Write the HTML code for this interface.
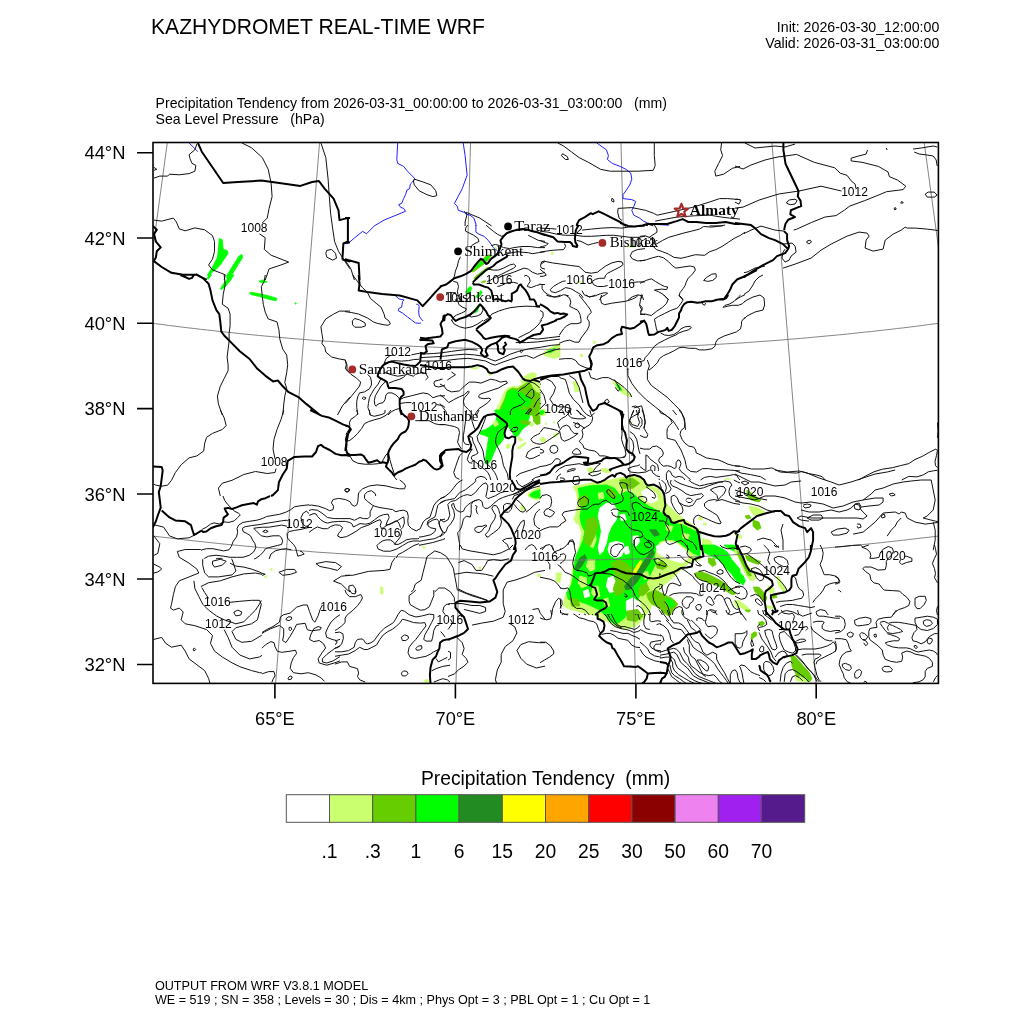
<!DOCTYPE html>
<html><head><meta charset="utf-8"><style>
html,body{margin:0;padding:0;background:#fff;}
svg{display:block;}
text{font-family:"Liberation Sans",Arial,Helvetica,sans-serif;fill:#000;}
.ser{font-family:"Liberation Serif","Times New Roman",serif;}
</style></head><body>
<svg width="1024" height="1024" viewBox="0 0 1024 1024">
<rect width="1024" height="1024" fill="#fff"/>
<text x="151" y="33.7" font-size="22.5" textLength="334" lengthAdjust="spacingAndGlyphs">KAZHYDROMET REAL-TIME WRF</text>
<text x="939.3" y="32" font-size="14.2" text-anchor="end">Init: 2026-03-30_12:00:00</text>
<text x="939.3" y="48.1" font-size="14.2" text-anchor="end">Valid: 2026-03-31_03:00:00</text>
<text x="155.6" y="108" font-size="14.1" xml:space="preserve">Precipitation Tendency from 2026-03-31_00:00:00 to 2026-03-31_03:00:00   (mm)</text>
<text x="155.6" y="124" font-size="14.1" xml:space="preserve">Sea Level Pressure   (hPa)</text>
<defs><clipPath id="fr"><rect x="153" y="142.5" width="785.4" height="540.9"/></clipPath></defs>
<g clip-path="url(#fr)">
<g id="precip"><path d="M219.3,238.6 L222.3,239.6 L223.2,249.4 L227.1,250.4 L228.1,253.3 L224.2,259.1 L220.3,265.0 L216.4,268.9 L211.5,272.8 L208.6,277.7 L207.6,274.8 L212.5,267.0 L217.4,257.2 L218.4,249.4 L219.3,238.6Z" fill="#00ff00" stroke="#00ff00" stroke-width="0.8"/>
<path d="M241.8,254.3 L242.8,257.2 L237.9,265.0 L232.0,274.8 L228.1,280.0 L226.2,276.7 L232.0,267.0 L238.9,256.2 L241.8,254.3Z" fill="#00ff00" stroke="#00ff00" stroke-width="0.8"/>
<path d="M206.6,278.9 L209.6,275.0 L211.5,275.0 L208.6,278.9Z" fill="#00ff00" stroke="#00ff00" stroke-width="0.8"/>
<path d="M220.3,288.7 L224.2,282.8 L228.1,277.9 L232.0,275.0 L234.0,275.0 L230.1,280.9 L225.2,286.7 L221.3,289.6Z" fill="#00ff00" stroke="#00ff00" stroke-width="0.8"/>
<path d="M259.4,280.9 L263.3,279.9 L267.2,281.8 L263.3,283.2 L259.4,281.8Z" fill="#00ff00" stroke="#00ff00" stroke-width="0.8"/>
<path d="M249.6,292.6 L253.5,292.6 L263.3,294.5 L271.1,296.5 L277.0,298.4 L276.0,300.8 L269.1,299.4 L259.4,296.5 L250.6,294.5 L249.6,292.6Z" fill="#00ff00" stroke="#00ff00" stroke-width="0.8"/>
<path d="M294.9,302.7 L296.5,303.3 L295.5,304.3Z" fill="#00ff00" stroke="#00ff00" stroke-width="0.8"/>
<path d="M264.8,575.9 L266.4,575.9 L266.4,577.4 L264.8,577.4Z" fill="#caff70" stroke="#caff70" stroke-width="0.8"/>
<path d="M270.7,568.8 L272.3,568.8 L272.3,570.4 L270.7,570.4Z" fill="#caff70" stroke="#caff70" stroke-width="0.8"/>
<path d="M473.2,312.1 L475.2,309.2 L477.1,306.2 L479.1,304.3 L480.0,305.3 L478.6,308.2 L477.6,311.1 L476.1,312.6 L474.2,312.6Z" fill="#00ff00" stroke="#00ff00" stroke-width="0.8"/>
<path d="M494.7,415.0 L496.6,408.5 L500.5,401.6 L503.5,393.8 L507.4,388.0 L514.2,386.0 L518.1,387.0 L522.0,384.1 L521.1,380.2 L525.0,376.2 L527.9,374.3 L532.8,372.3 L536.7,374.3 L535.2,377.2 L536.7,382.1 L540.0,384.1 L540.0,415.0Z" fill="#caff70" stroke="#caff70" stroke-width="0.8"/>
<path d="M498.6,415.0 L500.5,407.5 L504.5,399.7 L507.4,390.9 L512.3,388.0 L517.1,388.9 L522.0,386.0 L525.0,384.1 L527.9,382.1 L530.8,384.1 L532.8,388.0 L535.7,391.9 L540.0,393.8 L540.0,415.0Z" fill="#66cd00" stroke="#66cd00" stroke-width="0.8"/>
<path d="M500.5,415.0 L502.5,407.5 L505.4,399.7 L507.4,391.9 L512.3,389.4 L517.1,390.9 L520.1,391.9 L523.0,393.8 L525.0,397.7 L524.0,403.6 L522.0,407.5 L518.1,409.5 L514.2,412.4 L512.3,415.0Z" fill="#00ff00" stroke="#00ff00" stroke-width="0.8"/>
<path d="M524.0,397.7 L527.9,395.8 L530.8,399.7 L529.8,403.6 L527.9,407.5 L525.0,405.5Z" fill="#00ff00" stroke="#00ff00" stroke-width="0.8"/>
<path d="M494.7,410.0 L508.4,410.0 L510.3,413.9 L508.4,422.7 L506.4,427.6 L504.5,434.4 L503.5,439.3 L500.5,443.2 L496.6,447.1 L494.7,451.0 L492.7,455.9 L490.8,460.8 L486.9,464.7 L484.9,462.7 L485.9,455.9 L486.9,449.1 L487.9,442.2 L488.8,437.3 L484.9,435.4 L481.0,434.4 L479.1,433.4 L482.0,430.5 L485.9,429.5 L488.8,427.6 L492.7,424.6 L495.7,421.7 L496.6,415.9Z" fill="#00ff00" stroke="#00ff00" stroke-width="0.8"/>
<path d="M510.3,410.0 L527.9,410.0 L529.8,415.9 L527.9,421.7 L529.8,423.7 L525.9,426.6 L522.0,429.5 L519.1,434.4 L516.2,437.3 L514.2,435.4 L512.3,432.5 L510.3,429.5 L508.4,426.6 L509.3,419.8Z" fill="#00ff00" stroke="#00ff00" stroke-width="0.8"/>
<path d="M521.1,419.8 L525.9,420.7 L530.8,422.2 L529.8,424.2 L525.0,424.6 L521.1,422.7Z" fill="#66cd00" stroke="#66cd00" stroke-width="0.8"/>
<path d="M518.1,437.3 L521.1,438.3 L523.0,440.3 L520.1,441.2 L518.1,439.3Z" fill="#caff70" stroke="#caff70" stroke-width="0.8"/>
<path d="M506.4,445.2 L508.4,443.7 L510.3,445.2 L509.3,448.1 L506.9,448.6Z" fill="#caff70" stroke="#caff70" stroke-width="0.8"/>
<path d="M517.1,448.1 L521.1,445.2 L525.0,442.2 L526.4,443.2 L523.0,446.1 L519.1,449.1Z" fill="#caff70" stroke="#caff70" stroke-width="0.8"/>
<path d="M531.8,410.0 L540.0,410.0 L540.0,423.7 L536.7,424.6 L533.8,421.7 L532.8,415.9Z" fill="#66cd00" stroke="#66cd00" stroke-width="0.8"/>
<path d="M529.8,423.7 L532.8,422.7 L533.8,425.6 L530.8,426.6Z" fill="#caff70" stroke="#caff70" stroke-width="0.8"/>
<path d="M492.7,422.7 L496.6,420.7 L498.6,424.6 L494.7,426.6Z" fill="#caff70" stroke="#caff70" stroke-width="0.8"/>
<path d="M422.6,546.2 L424.1,546.4 L425.1,548.4 L423.6,548.4Z" fill="#caff70" stroke="#caff70" stroke-width="0.8"/>
<path d="M527.9,493.7 L533.8,489.8 L540.0,486.8 L540.0,499.5 L535.7,499.5 L529.8,497.6 L527.9,495.6Z" fill="#caff70" stroke="#caff70" stroke-width="0.8"/>
<path d="M529.8,494.6 L533.8,491.7 L540.0,489.8 L540.0,497.6 L535.7,498.1 L530.8,496.6Z" fill="#00ff00" stroke="#00ff00" stroke-width="0.8"/>
<path d="M521.1,505.4 L524.0,506.4 L525.0,509.3 L522.0,511.2 L521.1,508.3Z" fill="#caff70" stroke="#caff70" stroke-width="0.8"/>
<path d="M380.2,587.0 L382.5,587.0 L383.1,593.8 L380.7,593.8Z" fill="#caff70" stroke="#caff70" stroke-width="0.8"/>
<path d="M479.0,566.9 L480.9,566.9 L480.9,568.8 L479.0,568.8Z" fill="#caff70" stroke="#caff70" stroke-width="0.8"/>
<path d="M537.4,574.3 L540.3,574.3 L540.3,576.6 L537.4,576.6Z" fill="#caff70" stroke="#caff70" stroke-width="0.8"/>
<path d="M540.0,409.8 L543.9,409.8 L545.9,415.0 L540.0,415.0Z" fill="#caff70" stroke="#caff70" stroke-width="0.8"/>
<path d="M540.0,410.0 L545.9,410.0 L546.8,412.9 L543.9,415.4 L540.0,415.9Z" fill="#caff70" stroke="#caff70" stroke-width="0.8"/>
<path d="M540.0,411.0 L542.9,410.5 L544.9,412.4 L542.0,414.4 L540.0,414.4Z" fill="#00ff00" stroke="#00ff00" stroke-width="0.8"/>
<path d="M540.0,438.3 L542.9,437.3 L545.9,439.3 L544.9,441.7 L541.0,441.7Z" fill="#caff70" stroke="#caff70" stroke-width="0.8"/>
<path d="M553.7,434.4 L557.6,432.9 L558.6,434.4 L555.6,436.9 L554.2,436.9Z" fill="#caff70" stroke="#caff70" stroke-width="0.8"/>
<path d="M586.9,468.6 L589.8,467.6 L592.7,468.6 L593.7,471.5 L591.8,473.0 L588.8,472.5Z" fill="#caff70" stroke="#caff70" stroke-width="0.8"/>
<path d="M601.5,468.6 L606.4,468.6 L610.3,470.5 L609.3,472.5 L604.5,472.5 L601.5,470.5Z" fill="#caff70" stroke="#caff70" stroke-width="0.8"/>
<path d="M545.4,423.2 L546.6,423.2 L546.6,424.5 L545.4,424.5Z" fill="#caff70" stroke="#caff70" stroke-width="0.8"/>
<path d="M553.7,421.7 L554.8,421.7 L554.8,422.9 L553.7,422.9Z" fill="#caff70" stroke="#caff70" stroke-width="0.8"/>
<path d="M630.8,421.7 L632.0,421.7 L632.0,422.9 L630.8,422.9Z" fill="#caff70" stroke="#caff70" stroke-width="0.8"/>
<path d="M725.0,479.3 L727.9,478.4 L730.8,480.0Z" fill="#caff70" stroke="#caff70" stroke-width="0.8"/>
<path d="M702.5,538.6 L710.3,540.5 L714.2,548.4 L708.4,550.0 L702.5,548.4Z" fill="#caff70" stroke="#caff70" stroke-width="0.8"/>
<path d="M698.6,517.1 L702.5,517.6 L702.0,520.0 L698.6,519.6Z" fill="#caff70" stroke="#caff70" stroke-width="0.8"/>
<path d="M703.5,523.0 L706.4,523.2 L706.2,525.1 L703.5,524.9Z" fill="#caff70" stroke="#caff70" stroke-width="0.8"/>
<path d="M702.5,545.0 L714.2,545.0 L723.0,548.9 L727.9,552.8 L731.8,559.6 L737.7,566.5 L740.0,569.4 L740.0,584.1 L735.7,580.2 L731.8,574.3 L727.9,570.4 L723.0,564.5 L718.1,559.6 L714.2,557.7 L708.4,554.8 L704.5,552.8Z" fill="#00ff00" stroke="#00ff00" stroke-width="0.8"/>
<path d="M708.4,557.7 L714.2,558.7 L716.2,564.5 L712.3,566.5 L708.4,562.6Z" fill="#66cd00" stroke="#66cd00" stroke-width="0.8"/>
<path d="M694.7,573.3 L700.5,571.4 L708.4,574.3 L716.2,578.2 L723.0,582.1 L727.9,586.0 L733.8,590.9 L735.7,593.8 L732.8,594.8 L725.9,590.9 L718.1,586.0 L710.3,583.1 L702.5,580.2 L696.6,577.2Z" fill="#66cd00" stroke="#66cd00" stroke-width="0.8"/>
<path d="M724.0,545.0 L733.8,545.0 L740.0,548.9 L740.0,554.8 L733.8,550.9 L727.9,547.9Z" fill="#00ff00" stroke="#00ff00" stroke-width="0.8"/>
<path d="M733.8,601.6 L740.0,599.7 L740.0,607.5 L736.7,607.5Z" fill="#caff70" stroke="#caff70" stroke-width="0.8"/>
<path d="M747.0,490.0 L755.0,496.0 L761.0,500.0 L759.0,502.0 L751.0,500.0 L747.0,496.0Z" fill="#66cd00" stroke="#66cd00" stroke-width="0.8"/>
<path d="M749.0,506.0 L759.0,508.0 L765.0,512.0 L761.0,516.0 L755.0,516.0 L751.0,512.0Z" fill="#caff70" stroke="#caff70" stroke-width="0.8"/>
<path d="M745.0,516.0 L749.0,515.0 L751.0,518.0 L747.0,519.0Z" fill="#66cd00" stroke="#66cd00" stroke-width="0.8"/>
<path d="M753.0,520.1 L759.0,522.1 L761.0,528.1 L757.0,530.1 L753.0,526.1Z" fill="#66cd00" stroke="#66cd00" stroke-width="0.8"/>
<path d="M735.0,534.1 L741.0,535.1 L742.0,538.1 L737.0,538.1Z" fill="#caff70" stroke="#caff70" stroke-width="0.8"/>
<path d="M735.0,549.1 L739.1,550.1 L742.2,555.3 L745.3,561.4 L749.4,567.6 L753.5,572.7 L755.5,577.8 L753.5,580.9 L749.4,579.9 L745.3,573.7 L742.2,567.6 L740.1,561.4 L738.1,556.3 L735.0,555.3Z" fill="#caff70" stroke="#caff70" stroke-width="0.8"/>
<path d="M737.1,551.2 L740.1,552.2 L743.2,558.3 L746.3,564.5 L749.4,569.6 L751.4,575.8 L748.3,575.8 L745.3,569.6 L742.2,563.5 L739.1,557.3Z" fill="#66cd00" stroke="#66cd00" stroke-width="0.8"/>
<path d="M735.0,569.6 L739.1,571.7 L743.2,575.8 L745.3,580.9 L743.2,585.0 L739.1,581.9 L735.0,578.8Z" fill="#00ff00" stroke="#00ff00" stroke-width="0.8"/>
<path d="M745.3,555.3 L751.4,557.3 L755.5,559.4 L760.6,561.4 L758.6,564.5 L752.4,562.4 L747.3,560.4Z" fill="#66cd00" stroke="#66cd00" stroke-width="0.8"/>
<path d="M753.5,587.0 L758.6,587.0 L763.7,592.2 L766.8,597.3 L765.8,601.4 L761.7,599.3 L757.6,594.2 L754.5,591.1Z" fill="#66cd00" stroke="#66cd00" stroke-width="0.8"/>
<path d="M767.8,586.0 L774.0,588.1 L774.0,592.2 L769.9,593.2Z" fill="#caff70" stroke="#caff70" stroke-width="0.8"/>
<path d="M777.0,576.8 L779.1,576.8 L782.2,584.0 L786.3,590.1 L784.2,592.2 L780.1,588.1 L778.1,584.0Z" fill="#caff70" stroke="#caff70" stroke-width="0.8"/>
<path d="M770.9,595.2 L776.0,594.2 L777.0,597.3 L772.9,598.3Z" fill="#66cd00" stroke="#66cd00" stroke-width="0.8"/>
<path d="M737.1,601.4 L743.2,603.4 L748.3,607.6 L750.4,610.6 L747.3,611.7 L741.2,607.6 L737.1,604.5Z" fill="#caff70" stroke="#caff70" stroke-width="0.8"/>
<path d="M765.8,605.5 L772.9,606.5 L774.0,608.6 L767.8,608.6Z" fill="#caff70" stroke="#caff70" stroke-width="0.8"/>
<path d="M745.3,610.0 L750.4,610.0 L749.4,612.1 L746.3,611.5Z" fill="#66cd00" stroke="#66cd00" stroke-width="0.8"/>
<path d="M758.6,622.3 L762.7,621.3 L764.7,623.3 L762.7,625.4 L759.6,625.4Z" fill="#66cd00" stroke="#66cd00" stroke-width="0.8"/>
<path d="M790.4,655.1 L794.5,656.1 L798.6,660.2 L802.7,665.4 L806.8,669.5 L809.9,673.6 L811.9,678.7 L809.9,681.8 L804.7,680.8 L800.6,677.7 L796.5,675.6 L794.5,671.5 L792.4,667.4 L791.4,663.3 L791.4,659.2Z" fill="#66cd00" stroke="#66cd00" stroke-width="0.8"/>
<path d="M795.5,676.7 L800.6,676.7 L805.8,679.7 L806.8,681.8 L796.5,680.8Z" fill="#caff70" stroke="#caff70" stroke-width="0.8"/>
<path d="M424.8,679.8 L428.2,679.8 L428.2,682.1 L424.8,682.1Z" fill="#caff70" stroke="#caff70" stroke-width="0.8"/>
<path d="M471.8,270.1 L474.9,266.0 L479.0,261.9 L483.1,258.8 L486.1,255.8 L489.2,254.7 L491.3,255.8 L488.2,259.9 L484.1,264.0 L480.0,267.0 L475.9,270.1 L472.8,272.2Z" fill="#66cd00" stroke="#66cd00" stroke-width="0.8"/>
<path d="M474.9,268.1 L479.0,264.0 L483.1,260.4 L487.2,256.8 L489.2,256.3 L487.2,259.4 L483.1,262.9 L479.0,266.0 L475.4,269.1Z" fill="#00ff00" stroke="#00ff00" stroke-width="0.8"/>
<path d="M473.8,278.3 L476.9,275.2 L481.0,272.2 L485.1,269.1 L488.2,267.0 L489.2,268.1 L485.1,272.2 L481.0,275.2 L476.9,278.3 L474.9,279.3Z" fill="#66cd00" stroke="#66cd00" stroke-width="0.8"/>
<path d="M465.6,291.7 L468.7,287.6 L470.8,286.5 L471.8,288.6 L469.7,292.7 L466.7,294.7Z" fill="#00ff00" stroke="#00ff00" stroke-width="0.8"/>
<path d="M475.9,296.8 L479.0,292.7 L481.0,290.6 L482.0,292.7 L480.0,295.8 L477.9,297.8Z" fill="#00ff00" stroke="#00ff00" stroke-width="0.8"/>
<path d="M481.0,282.4 L484.1,280.9 L486.1,280.9 L484.1,282.4Z" fill="#66cd00" stroke="#66cd00" stroke-width="0.8"/>
<path d="M493.3,247.6 L495.4,247.0 L497.4,248.6 L495.4,249.6Z" fill="#caff70" stroke="#caff70" stroke-width="0.8"/>
<path d="M551.3,252.7 L553.3,252.7 L553.3,254.2 L551.3,254.2Z" fill="#caff70" stroke="#caff70" stroke-width="0.8"/>
<path d="M579.0,281.9 L581.0,281.4 L581.5,282.9 L579.5,283.2Z" fill="#caff70" stroke="#caff70" stroke-width="0.8"/>
<path d="M628.2,245.5 L634.3,245.0 L634.9,247.0 L628.7,247.0Z" fill="#caff70" stroke="#caff70" stroke-width="0.8"/>
<path d="M593.3,341.1 L595.4,341.1 L595.4,343.2 L593.3,343.2Z" fill="#caff70" stroke="#caff70" stroke-width="0.8"/>
<path d="M580.5,354.5 L582.6,354.5 L582.6,356.5 L580.5,356.5Z" fill="#caff70" stroke="#caff70" stroke-width="0.8"/>
<path d="M573.2,486.6 L589.8,483.3 L609.7,480.0 L626.3,476.6 L639.6,476.6 L649.5,484.9 L659.5,489.9 L666.1,503.2 L676.1,513.2 L689.4,523.1 L700.0,529.8 L700.0,559.6 L689.4,562.9 L681.1,569.6 L672.8,577.9 L662.8,586.2 L656.2,594.5 L652.9,602.8 L649.5,611.1 L642.9,619.4 L636.3,626.0 L626.3,629.3 L616.3,627.7 L609.7,622.7 L603.1,619.4 L596.4,616.1 L583.2,612.7 L569.9,609.4 L563.2,606.1 L564.9,596.1 L569.9,586.2 L571.5,576.2 L573.2,566.3 L576.5,556.3 L579.8,543.0 L581.5,533.1 L578.2,523.1 L574.9,516.5 L578.2,503.2 L576.5,493.2Z" fill="#caff70" stroke="#caff70" stroke-width="0.8"/>
<path d="M573.2,518.1 L581.5,516.5 L583.2,523.1 L576.5,523.9Z" fill="#caff70" stroke="#caff70" stroke-width="0.8"/>
<path d="M556.6,572.9 L561.6,572.9 L559.9,582.9 L555.8,581.2Z" fill="#caff70" stroke="#caff70" stroke-width="0.8"/>
<path d="M578.2,488.3 L589.8,485.8 L606.4,484.9 L614.7,488.3 L619.7,494.9 L626.3,491.6 L632.9,493.2 L639.6,499.9 L649.5,506.5 L659.5,511.5 L666.1,516.5 L672.8,523.1 L682.7,524.8 L692.7,529.8 L700.0,533.1 L700.0,556.3 L692.7,553.0 L686.1,548.0 L679.4,543.0 L672.8,539.7 L666.1,539.7 L659.5,541.4 L656.2,548.0 L654.5,556.3 L656.2,562.9 L652.9,569.6 L649.5,576.2 L646.2,582.9 L642.9,589.5 L639.6,596.1 L636.3,602.8 L629.6,612.7 L623.0,619.4 L616.3,624.4 L609.7,621.0 L604.7,614.4 L598.1,609.4 L588.1,604.4 L578.2,601.1 L568.2,599.5 L566.6,592.8 L571.5,584.5 L573.2,576.2 L574.0,566.3 L575.7,556.3 L579.8,548.0 L583.2,539.7 L584.8,531.4 L581.5,524.8 L579.8,516.5 L581.5,508.2 L579.8,498.2Z" fill="#00ff00" stroke="#00ff00" stroke-width="0.8"/>
<path d="M599.8,508.2 L606.4,503.2 L613.0,503.2 L618.0,511.5 L616.3,519.8 L611.4,526.4 L608.0,534.7 L606.4,543.0 L603.1,551.3 L599.8,554.6 L598.1,548.0 L599.8,539.7 L601.4,531.4 L599.8,523.1 L598.1,516.5Z" fill="#ffffff" stroke="#ffffff" stroke-width="0.8"/>
<path d="M609.7,543.0 L616.3,541.4 L623.0,543.0 L624.6,549.7 L621.3,556.3 L614.7,558.0 L609.7,554.6 L608.0,549.7Z" fill="#ffffff" stroke="#ffffff" stroke-width="0.8"/>
<path d="M588.1,559.6 L594.8,559.6 L594.8,569.6 L589.8,571.2 L586.5,566.3Z" fill="#caff70" stroke="#caff70" stroke-width="0.8"/>
<path d="M608.0,577.9 L613.0,576.2 L616.3,582.9 L614.7,591.2 L609.7,592.8 L606.4,586.2Z" fill="#ffffff" stroke="#ffffff" stroke-width="0.8"/>
<path d="M626.3,601.1 L632.9,597.8 L639.6,602.8 L642.9,612.7 L636.3,619.4 L629.6,617.7 L626.3,609.4Z" fill="#ffffff" stroke="#ffffff" stroke-width="0.8"/>
<path d="M641.2,491.6 L647.9,488.3 L656.2,493.2 L657.8,499.9 L651.2,503.2 L644.6,499.9Z" fill="#ffffff" stroke="#ffffff" stroke-width="0.8"/>
<path d="M656.2,546.3 L666.1,541.4 L676.1,543.0 L684.4,549.7 L689.4,556.3 L682.7,562.9 L672.8,560.5 L662.8,556.3 L657.8,553.0Z" fill="#ffffff" stroke="#ffffff" stroke-width="0.8"/>
<path d="M579.8,576.2 L586.5,577.9 L586.5,586.2 L581.5,587.8 L578.2,582.9Z" fill="#caff70" stroke="#caff70" stroke-width="0.8"/>
<path d="M593.1,586.2 L598.1,586.2 L599.8,596.1 L594.8,597.8 L591.5,592.8Z" fill="#caff70" stroke="#caff70" stroke-width="0.8"/>
<path d="M589.8,533.1 L594.8,531.4 L596.4,539.7 L593.1,548.0 L589.8,546.3 L589.0,539.7Z" fill="#caff70" stroke="#caff70" stroke-width="0.8"/>
<path d="M632.9,536.4 L637.9,535.6 L639.6,541.4 L636.3,546.3 L632.9,543.0Z" fill="#ffffff" stroke="#ffffff" stroke-width="0.8"/>
<path d="M618.0,566.3 L623.0,565.4 L624.6,572.9 L621.3,579.5 L618.0,576.2Z" fill="#caff70" stroke="#caff70" stroke-width="0.8"/>
<path d="M583.2,591.2 L588.1,589.5 L589.8,596.1 L584.8,597.8Z" fill="#ffffff" stroke="#ffffff" stroke-width="0.8"/>
<path d="M603.1,599.5 L608.0,597.8 L609.7,606.1 L605.6,607.8Z" fill="#caff70" stroke="#caff70" stroke-width="0.8"/>
<path d="M623.0,548.0 L628.0,546.3 L629.6,553.0 L625.5,554.6Z" fill="#ffffff" stroke="#ffffff" stroke-width="0.8"/>
<path d="M642.9,572.9 L647.9,571.2 L649.5,577.9 L644.6,579.5Z" fill="#caff70" stroke="#caff70" stroke-width="0.8"/>
<path d="M598.1,493.2 L603.1,492.4 L603.9,498.2 L598.9,499.0Z" fill="#caff70" stroke="#caff70" stroke-width="0.8"/>
<path d="M619.7,514.8 L624.6,514.0 L626.3,519.8 L621.3,520.6Z" fill="#ffffff" stroke="#ffffff" stroke-width="0.8"/>
<path d="M666.1,524.8 L672.8,526.4 L671.1,531.4 L666.1,529.8Z" fill="#caff70" stroke="#caff70" stroke-width="0.8"/>
<path d="M682.7,533.1 L689.4,534.7 L687.7,539.7 L682.7,538.0Z" fill="#caff70" stroke="#caff70" stroke-width="0.8"/>
<path d="M578.2,498.2 L586.5,494.9 L589.8,501.5 L583.2,506.5 L579.8,504.9Z" fill="#66cd00" stroke="#66cd00" stroke-width="0.8"/>
<path d="M606.4,489.9 L611.4,488.3 L616.3,494.9 L614.7,498.2 L609.7,496.6Z" fill="#66cd00" stroke="#66cd00" stroke-width="0.8"/>
<path d="M586.5,519.8 L594.8,516.5 L598.1,524.8 L594.8,536.4 L589.8,546.3 L584.8,543.0 L584.8,533.1Z" fill="#66cd00" stroke="#66cd00" stroke-width="0.8"/>
<path d="M611.4,562.9 L619.7,559.6 L626.3,562.9 L632.9,569.6 L629.6,582.9 L623.0,592.8 L616.3,596.1 L613.0,589.5 L616.3,579.5 L613.0,569.6Z" fill="#66cd00" stroke="#66cd00" stroke-width="0.8"/>
<path d="M639.6,586.2 L646.2,582.9 L649.5,589.5 L642.9,596.1 L637.9,594.5Z" fill="#66cd00" stroke="#66cd00" stroke-width="0.8"/>
<path d="M656.2,562.9 L662.8,561.3 L667.8,566.3 L662.8,569.6 L657.0,567.9Z" fill="#66cd00" stroke="#66cd00" stroke-width="0.8"/>
<path d="M569.9,597.8 L578.2,599.5 L579.8,606.1 L571.5,606.1Z" fill="#66cd00" stroke="#66cd00" stroke-width="0.8"/>
<path d="M619.7,480.0 L632.9,478.3 L639.6,483.3 L632.9,488.3 L623.0,488.3Z" fill="#66cd00" stroke="#66cd00" stroke-width="0.8"/>
<path d="M574.9,567.9 L579.8,558.0 L584.8,554.6 L586.5,558.0 L581.5,566.3 L577.3,571.2Z" fill="#228b22" stroke="#228b22" stroke-width="0.8"/>
<path d="M624.6,586.2 L629.6,579.5 L636.3,572.9 L642.9,562.9 L649.5,553.0 L652.9,549.7 L654.5,553.0 L649.5,562.9 L642.9,572.9 L636.3,582.9 L629.6,589.5 L625.5,589.5Z" fill="#228b22" stroke="#228b22" stroke-width="0.8"/>
<path d="M649.5,529.8 L656.2,529.8 L659.5,534.7 L654.5,536.4Z" fill="#228b22" stroke="#228b22" stroke-width="0.8"/>
<path d="M632.1,573.7 L636.3,566.3 L640.4,560.5 L642.1,561.3 L638.8,567.9 L634.6,574.6 L632.9,575.4Z" fill="#ffff00" stroke="#ffff00" stroke-width="0.8"/>
<path d="M543.1,352.8 L548.5,348.7 L554.0,346.0 L560.0,343.2 L560.0,356.9 L554.0,358.3 L548.5,356.9 L544.4,355.5Z" fill="#caff70" stroke="#caff70" stroke-width="0.8"/>
<path d="M547.2,351.4 L551.3,349.4 L555.4,348.0 L554.0,350.8 L549.9,352.8Z" fill="#00ff00" stroke="#00ff00" stroke-width="0.8"/>
<path d="M526.6,377.4 L532.1,373.3 L534.8,374.7 L532.1,378.8 L528.0,380.0Z" fill="#caff70" stroke="#caff70" stroke-width="0.8"/>
<path d="M470.6,367.9 L474.7,367.2 L478.8,367.9 L474.7,369.2Z" fill="#caff70" stroke="#caff70" stroke-width="0.8"/>
<path d="M488.4,373.3 L491.1,374.0 L489.7,376.1Z" fill="#caff70" stroke="#caff70" stroke-width="0.8"/>
<path d="M751.8,633.7 L754.7,631.7 L756.7,632.7 L756.7,635.6 L753.8,637.6 L751.8,639.5 L750.8,638.6Z" fill="#66cd00" stroke="#66cd00" stroke-width="0.8"/>
<path d="M646.4,593.5 L655.2,590.0 L662.2,593.5 L672.7,598.8 L678.0,604.1 L672.7,611.1 L669.2,616.4 L663.9,612.9 L658.7,607.6 L651.6,604.1 L648.1,598.8Z" fill="#66cd00" stroke="#66cd00" stroke-width="0.8"/>
<path d="M665.7,598.8 L672.7,600.5 L674.5,605.8 L669.2,607.6Z" fill="#00ff00" stroke="#00ff00" stroke-width="0.8"/>
<path d="M627.0,611.1 L637.6,609.3 L642.9,616.4 L635.8,621.6 L627.0,619.9Z" fill="#66cd00" stroke="#66cd00" stroke-width="0.8"/>
<path d="M612.3,381.5 L618.1,382.5 L624.0,389.3 L631.8,395.2 L629.8,397.1 L622.0,393.2 L616.2,387.3Z" fill="#caff70" stroke="#caff70" stroke-width="0.8"/>
<path d="M616.2,384.4 L619.1,385.4 L622.0,390.3 L619.1,389.7Z" fill="#00ff00" stroke="#00ff00" stroke-width="0.8"/>
<path d="M573.2,381.5 L577.1,382.5 L579.1,391.2 L575.2,392.2Z" fill="#caff70" stroke="#caff70" stroke-width="0.8"/></g>
<path d="M-276.4,671.7 -269.2,673.5 -262.1,675.2 -254.9,677.0 -247.7,678.7 -240.5,680.4 -233.3,682.1 -226.2,683.8 -219.0,685.4 -211.8,687.1 -204.6,688.7 -197.4,690.3 -190.2,691.9 -183.0,693.5 -175.7,695.1 -168.5,696.6 -161.3,698.2 -154.1,699.7 -146.9,701.2 -139.6,702.7 -132.4,704.2 -125.2,705.6 -117.9,707.1 -110.7,708.5 -103.4,709.9 -96.2,711.3 -88.9,712.7 -81.7,714.1 -74.4,715.4 -67.2,716.8 -59.9,718.1 -52.7,719.4 -45.4,720.7 -38.1,721.9 -30.8,723.2 -23.6,724.4 -16.3,725.7 -9.0,726.9 -1.7,728.1 5.6,729.2 12.9,730.4 20.1,731.5 27.4,732.7 34.7,733.8 42.0,734.9 49.3,736.0 56.6,737.0 63.9,738.1 71.2,739.1 78.6,740.1 85.9,741.1 93.2,742.1 100.5,743.1 107.8,744.0 115.1,745.0 122.5,745.9 129.8,746.8 137.1,747.7 144.4,748.6 151.8,749.4 159.1,750.3 166.4,751.1 173.8,751.9 181.1,752.7 188.4,753.5 195.8,754.3 203.1,755.0 210.5,755.8 217.8,756.5 225.2,757.2 232.5,757.9 239.9,758.5 247.2,759.2 254.6,759.8 261.9,760.5 269.3,761.1 276.6,761.6 284.0,762.2 291.4,762.8 298.7,763.3 306.1,763.9 313.4,764.4 320.8,764.9 328.2,765.3 335.5,765.8 342.9,766.2 350.3,766.7 357.6,767.1 365.0,767.5 372.4,767.9 379.8,768.2 387.1,768.6 394.5,768.9 401.9,769.2 409.2,769.6 416.6,769.8 424.0,770.1 431.4,770.4 438.7,770.6 446.1,770.8 453.5,771.0 460.9,771.2 468.3,771.4 475.6,771.6 483.0,771.7 490.4,771.8 497.8,771.9 505.2,772.0 512.5,772.1 519.9,772.2 527.3,772.2 534.7,772.3 542.1,772.3 549.4,772.3 556.8,772.3 564.2,772.2 571.6,772.2 579.0,772.1 586.3,772.0 593.7,771.9 601.1,771.8 608.5,771.7 615.9,771.6 623.2,771.4 630.6,771.2 638.0,771.0 645.4,770.8 652.8,770.6 660.1,770.4 667.5,770.1 674.9,769.8 682.3,769.6 689.6,769.2 697.0,768.9 704.4,768.6 711.7,768.2 719.1,767.9 726.5,767.5 733.9,767.1 741.2,766.7 748.6,766.2 756.0,765.8 763.3,765.3 770.7,764.9 778.1,764.4 785.4,763.9 792.8,763.3 800.1,762.8 807.5,762.2 814.9,761.6 822.2,761.1 829.6,760.5 836.9,759.8 844.3,759.2 851.6,758.5 859.0,757.9 866.3,757.2 873.7,756.5 881.0,755.8 888.4,755.0 895.7,754.3 903.1,753.5 910.4,752.7 917.7,751.9 925.1,751.1 932.4,750.3 939.7,749.4 947.1,748.6 954.4,747.7 961.7,746.8 969.0,745.9 976.4,745.0 983.7,744.0 991.0,743.1 998.3,742.1 1005.6,741.1 1012.9,740.1 1020.3,739.1 1027.6,738.1 1034.9,737.0 1042.2,736.0 1049.5,734.9 1056.8,733.8 1064.1,732.7 1071.4,731.5 1078.6,730.4 1085.9,729.2 1093.2,728.1 1100.5,726.9 1107.8,725.7 1115.1,724.4 1122.3,723.2 1129.6,721.9 1136.9,720.7 1144.2,719.4 1151.4,718.1 1158.7,716.8 1165.9,715.4 1173.2,714.1 1180.4,712.7 1187.7,711.3 1194.9,709.9 1202.2,708.5 1209.4,707.1 1216.7,705.6 1223.9,704.2 1231.1,702.7 1238.4,701.2 1245.6,699.7 1252.8,698.2 1260.0,696.6 1267.2,695.1 1274.5,693.5 1281.7,691.9 1288.9,690.3 1296.1,688.7 1303.3,687.1 1310.5,685.4 1317.7,683.8 1324.8,682.1 1332.0,680.4 1339.2,678.7 1346.4,677.0 1353.6,675.2 1360.7,673.5 1367.9,671.7 1375.0,669.9 1382.2,668.1 1389.4,666.3 1396.5,664.5 M-225.3,465.9 -218.6,467.6 -211.8,469.2 -205.1,470.9 -198.4,472.5 -191.6,474.1 -184.9,475.7 -178.2,477.3 -171.4,478.8 -164.7,480.4 -157.9,481.9 -151.2,483.4 -144.4,484.9 -137.6,486.4 -130.9,487.9 -124.1,489.3 -117.3,490.8 -110.6,492.2 -103.8,493.6 -97.0,495.0 -90.2,496.4 -83.5,497.8 -76.7,499.1 -69.9,500.4 -63.1,501.8 -56.3,503.1 -49.5,504.4 -42.7,505.7 -35.9,506.9 -29.1,508.2 -22.3,509.4 -15.4,510.6 -8.6,511.8 -1.8,513.0 5.0,514.2 11.8,515.4 18.7,516.5 25.5,517.7 32.3,518.8 39.1,519.9 46.0,521.0 52.8,522.0 59.7,523.1 66.5,524.1 73.3,525.2 80.2,526.2 87.0,527.2 93.9,528.2 100.7,529.1 107.6,530.1 114.5,531.0 121.3,532.0 128.2,532.9 135.0,533.8 141.9,534.7 148.8,535.5 155.6,536.4 162.5,537.2 169.4,538.0 176.3,538.8 183.1,539.6 190.0,540.4 196.9,541.2 203.8,541.9 210.7,542.7 217.5,543.4 224.4,544.1 231.3,544.8 238.2,545.4 245.1,546.1 252.0,546.7 258.9,547.4 265.8,548.0 272.7,548.6 279.6,549.2 286.5,549.7 293.4,550.3 300.3,550.8 307.2,551.3 314.1,551.9 321.0,552.4 327.9,552.8 334.8,553.3 341.7,553.7 348.6,554.2 355.5,554.6 362.4,555.0 369.3,555.4 376.2,555.8 383.2,556.1 390.1,556.5 397.0,556.8 403.9,557.1 410.8,557.4 417.7,557.7 424.6,558.0 431.6,558.2 438.5,558.5 445.4,558.7 452.3,558.9 459.2,559.1 466.2,559.3 473.1,559.4 480.0,559.6 486.9,559.7 493.8,559.8 500.8,559.9 507.7,560.0 514.6,560.1 521.5,560.2 528.4,560.2 535.4,560.2 542.3,560.3 549.2,560.3 556.1,560.2 563.1,560.2 570.0,560.2 576.9,560.1 583.8,560.0 590.7,559.9 597.7,559.8 604.6,559.7 611.5,559.6 618.4,559.4 625.3,559.3 632.3,559.1 639.2,558.9 646.1,558.7 653.0,558.5 659.9,558.2 666.9,558.0 673.8,557.7 680.7,557.4 687.6,557.1 694.5,556.8 701.4,556.5 708.3,556.1 715.3,555.8 722.2,555.4 729.1,555.0 736.0,554.6 742.9,554.2 749.8,553.7 756.7,553.3 763.6,552.8 770.5,552.4 777.4,551.9 784.3,551.3 791.2,550.8 798.1,550.3 805.0,549.7 811.9,549.2 818.8,548.6 825.7,548.0 832.6,547.4 839.5,546.7 846.4,546.1 853.3,545.4 860.2,544.8 867.1,544.1 874.0,543.4 880.8,542.7 887.7,541.9 894.6,541.2 901.5,540.4 908.4,539.6 915.2,538.8 922.1,538.0 929.0,537.2 935.9,536.4 942.7,535.5 949.6,534.7 956.5,533.8 963.3,532.9 970.2,532.0 977.0,531.0 983.9,530.1 990.8,529.1 997.6,528.2 1004.5,527.2 1011.3,526.2 1018.2,525.2 1025.0,524.1 1031.8,523.1 1038.7,522.0 1045.5,521.0 1052.4,519.9 1059.2,518.8 1066.0,517.7 1072.8,516.5 1079.7,515.4 1086.5,514.2 1093.3,513.0 1100.1,511.8 1106.9,510.6 1113.8,509.4 1120.6,508.2 1127.4,506.9 1134.2,505.7 1141.0,504.4 1147.8,503.1 1154.6,501.8 1161.4,500.4 1168.2,499.1 1175.0,497.8 1181.7,496.4 1188.5,495.0 1195.3,493.6 1202.1,492.2 1208.8,490.8 1215.6,489.3 1222.4,487.9 1229.1,486.4 1235.9,484.9 1242.7,483.4 1249.4,481.9 1256.2,480.4 1262.9,478.8 1269.7,477.3 1276.4,475.7 1283.1,474.1 1289.9,472.5 1296.6,470.9 1303.3,469.2 1310.1,467.6 1316.8,465.9 1323.5,464.3 1330.2,462.6 1336.9,460.9 1343.6,459.1 M-174.4,261.2 -168.1,262.7 -161.9,264.3 -155.6,265.8 -149.3,267.3 -143.0,268.8 -136.7,270.3 -130.4,271.7 -124.1,273.2 -117.8,274.6 -111.5,276.1 -105.2,277.5 -98.9,278.9 -92.6,280.3 -86.2,281.7 -79.9,283.0 -73.6,284.4 -67.3,285.7 -61.0,287.0 -54.6,288.3 -48.3,289.6 -41.9,290.9 -35.6,292.2 -29.3,293.4 -22.9,294.6 -16.6,295.9 -10.2,297.1 -3.9,298.3 2.5,299.5 8.8,300.6 15.2,301.8 21.6,302.9 27.9,304.1 34.3,305.2 40.7,306.3 47.1,307.4 53.4,308.4 59.8,309.5 66.2,310.5 72.6,311.6 79.0,312.6 85.3,313.6 91.7,314.6 98.1,315.5 104.5,316.5 110.9,317.5 117.3,318.4 123.7,319.3 130.1,320.2 136.5,321.1 142.9,322.0 149.3,322.9 155.7,323.7 162.1,324.5 168.6,325.4 175.0,326.2 181.4,327.0 187.8,327.8 194.2,328.5 200.6,329.3 207.1,330.0 213.5,330.7 219.9,331.5 226.3,332.1 232.8,332.8 239.2,333.5 245.6,334.2 252.1,334.8 258.5,335.4 264.9,336.0 271.4,336.6 277.8,337.2 284.2,337.8 290.7,338.4 297.1,338.9 303.6,339.4 310.0,340.0 316.5,340.5 322.9,341.0 329.4,341.4 335.8,341.9 342.3,342.3 348.7,342.8 355.2,343.2 361.6,343.6 368.1,344.0 374.5,344.4 381.0,344.7 387.4,345.1 393.9,345.4 400.3,345.7 406.8,346.0 413.3,346.3 419.7,346.6 426.2,346.9 432.6,347.1 439.1,347.4 445.6,347.6 452.0,347.8 458.5,348.0 464.9,348.2 471.4,348.3 477.9,348.5 484.3,348.6 490.8,348.8 497.3,348.9 503.7,349.0 510.2,349.1 516.7,349.1 523.1,349.2 529.6,349.2 536.1,349.3 542.5,349.3 549.0,349.3 555.4,349.3 561.9,349.2 568.4,349.2 574.8,349.1 581.3,349.1 587.8,349.0 594.2,348.9 600.7,348.8 607.2,348.6 613.6,348.5 620.1,348.3 626.6,348.2 633.0,348.0 639.5,347.8 645.9,347.6 652.4,347.4 658.9,347.1 665.3,346.9 671.8,346.6 678.2,346.3 684.7,346.0 691.2,345.7 697.6,345.4 704.1,345.1 710.5,344.7 717.0,344.4 723.4,344.0 729.9,343.6 736.3,343.2 742.8,342.8 749.2,342.3 755.7,341.9 762.1,341.4 768.6,341.0 775.0,340.5 781.5,340.0 787.9,339.4 794.4,338.9 800.8,338.4 807.3,337.8 813.7,337.2 820.1,336.6 826.6,336.0 833.0,335.4 839.4,334.8 845.9,334.2 852.3,333.5 858.7,332.8 865.2,332.1 871.6,331.5 878.0,330.7 884.4,330.0 890.9,329.3 897.3,328.5 903.7,327.8 910.1,327.0 916.5,326.2 922.9,325.4 929.4,324.5 935.8,323.7 942.2,322.9 948.6,322.0 955.0,321.1 961.4,320.2 967.8,319.3 974.2,318.4 980.6,317.5 987.0,316.5 993.4,315.5 999.8,314.6 1006.2,313.6 1012.5,312.6 1018.9,311.6 1025.3,310.5 1031.7,309.5 1038.1,308.4 1044.4,307.4 1050.8,306.3 1057.2,305.2 1063.6,304.1 1069.9,302.9 1076.3,301.8 1082.7,300.6 1089.0,299.5 1095.4,298.3 1101.7,297.1 1108.1,295.9 1114.4,294.6 1120.8,293.4 1127.1,292.2 1133.4,290.9 1139.8,289.6 1146.1,288.3 1152.5,287.0 1158.8,285.7 1165.1,284.4 1171.4,283.0 1177.7,281.7 1184.1,280.3 1190.4,278.9 1196.7,277.5 1203.0,276.1 1209.3,274.6 1215.6,273.2 1221.9,271.7 1228.2,270.3 1234.5,268.8 1240.8,267.3 1247.1,265.8 1253.4,264.3 1259.6,262.7 1265.9,261.2 1272.2,259.6 1278.4,258.0 1284.7,256.4 1291.0,254.8 M-123.4,55.9 -117.6,57.3 -111.7,58.7 -105.9,60.2 -100.1,61.6 -94.2,62.9 -88.4,64.3 -82.5,65.7 -76.7,67.0 -70.8,68.4 -65.0,69.7 -59.1,71.0 -53.2,72.3 -47.4,73.6 -41.5,74.9 -35.6,76.2 -29.7,77.4 -23.9,78.7 -18.0,79.9 -12.1,81.1 -6.2,82.3 -0.3,83.5 5.6,84.7 11.5,85.8 17.4,87.0 23.3,88.1 29.2,89.2 35.1,90.3 41.0,91.4 46.9,92.5 52.8,93.6 58.7,94.7 64.6,95.7 70.5,96.7 76.4,97.8 82.4,98.8 88.3,99.8 94.2,100.8 100.1,101.7 106.1,102.7 112.0,103.6 117.9,104.6 123.9,105.5 129.8,106.4 135.8,107.3 141.7,108.2 147.6,109.0 153.6,109.9 159.5,110.7 165.5,111.6 171.4,112.4 177.4,113.2 183.3,114.0 189.3,114.7 195.3,115.5 201.2,116.3 207.2,117.0 213.1,117.7 219.1,118.4 225.1,119.1 231.0,119.8 237.0,120.5 243.0,121.2 249.0,121.8 254.9,122.5 260.9,123.1 266.9,123.7 272.9,124.3 278.8,124.9 284.8,125.4 290.8,126.0 296.8,126.5 302.8,127.1 308.8,127.6 314.7,128.1 320.7,128.6 326.7,129.1 332.7,129.5 338.7,130.0 344.7,130.4 350.7,130.9 356.7,131.3 362.7,131.7 368.7,132.1 374.7,132.5 380.6,132.8 386.6,133.2 392.6,133.5 398.6,133.8 404.6,134.1 410.6,134.4 416.6,134.7 422.6,135.0 428.6,135.3 434.6,135.5 440.6,135.7 446.7,136.0 452.7,136.2 458.7,136.4 464.7,136.5 470.7,136.7 476.7,136.9 482.7,137.0 488.7,137.1 494.7,137.3 500.7,137.4 506.7,137.5 512.7,137.5 518.7,137.6 524.7,137.6 530.7,137.7 536.7,137.7 542.7,137.7 548.8,137.7 554.8,137.7 560.8,137.7 566.8,137.6 572.8,137.6 578.8,137.5 584.8,137.5 590.8,137.4 596.8,137.3 602.8,137.1 608.8,137.0 614.8,136.9 620.8,136.7 626.8,136.5 632.8,136.4 638.8,136.2 644.8,136.0 650.9,135.7 656.9,135.5 662.9,135.3 668.9,135.0 674.9,134.7 680.9,134.4 686.9,134.1 692.9,133.8 698.9,133.5 704.9,133.2 710.9,132.8 716.8,132.5 722.8,132.1 728.8,131.7 734.8,131.3 740.8,130.9 746.8,130.4 752.8,130.0 758.8,129.5 764.8,129.1 770.8,128.6 776.8,128.1 782.7,127.6 788.7,127.1 794.7,126.5 800.7,126.0 806.7,125.4 812.7,124.9 818.6,124.3 824.6,123.7 830.6,123.1 836.6,122.5 842.5,121.8 848.5,121.2 854.5,120.5 860.5,119.8 866.4,119.1 872.4,118.4 878.4,117.7 884.3,117.0 890.3,116.3 896.2,115.5 902.2,114.7 908.2,114.0 914.1,113.2 920.1,112.4 926.0,111.6 932.0,110.7 937.9,109.9 943.9,109.0 949.8,108.2 955.7,107.3 961.7,106.4 967.6,105.5 973.6,104.6 979.5,103.6 985.4,102.7 991.4,101.7 997.3,100.8 1003.2,99.8 1009.1,98.8 1015.1,97.8 1021.0,96.7 1026.9,95.7 1032.8,94.7 1038.7,93.6 1044.6,92.5 1050.5,91.4 1056.4,90.3 1062.3,89.2 1068.2,88.1 1074.1,87.0 1080.0,85.8 1085.9,84.7 1091.8,83.5 1097.7,82.3 1103.6,81.1 1109.5,79.9 1115.4,78.7 1121.2,77.4 1127.1,76.2 1133.0,74.9 1138.9,73.6 1144.7,72.3 1150.6,71.0 1156.5,69.7 1162.3,68.4 1168.2,67.0 1174.0,65.7 1179.9,64.3 1185.7,62.9 1191.6,61.6 1197.4,60.2 1203.2,58.7 1209.1,57.3 1214.9,55.9 1220.7,54.4 1226.6,52.9 1232.4,51.5 1238.2,50.0 M-136.6,922.1 -120.4,837.4 -104.2,753.2 -88.2,669.5 -72.2,586.2 -56.3,503.1 -40.4,420.2 -24.5,337.3 -8.6,254.4 7.3,171.4 23.3,88.1 39.3,4.5 55.4,-79.6 M56.9,953.8 68.6,868.3 80.1,783.4 91.6,699.0 103.1,614.9 114.5,531.0 125.8,447.4 137.2,363.8 148.6,280.2 160.0,196.4 171.4,112.4 182.9,28.0 194.5,-56.9 M251.9,975.0 258.9,889.0 265.8,803.6 272.7,718.6 279.6,634.1 286.5,549.7 293.3,465.6 300.2,381.5 307.0,297.4 313.9,213.1 320.7,128.6 327.6,43.7 334.6,-41.6 M447.7,985.6 450.0,899.3 452.4,813.7 454.7,728.5 457.0,643.7 459.2,559.1 461.5,474.7 463.8,390.4 466.1,306.0 468.4,221.5 470.7,136.7 473.0,51.6 475.3,-34.0 M643.8,985.6 641.5,899.3 639.1,813.7 636.8,728.5 634.5,643.7 632.3,559.1 630.0,474.7 627.7,390.4 625.4,306.0 623.1,221.5 620.8,136.7 618.5,51.6 616.2,-34.0 M839.6,975.0 832.6,889.0 825.7,803.6 818.8,718.6 811.9,634.1 805.0,549.7 798.2,465.6 791.3,381.5 784.5,297.4 777.6,213.1 770.8,128.6 763.9,43.7 756.9,-41.6 M1034.6,953.8 1022.9,868.3 1011.4,783.4 999.9,699.0 988.4,614.9 977.0,531.0 965.7,447.4 954.3,363.8 942.9,280.2 931.5,196.4 920.1,112.4 908.6,28.0 897.0,-56.9 M1228.1,922.1 1211.9,837.4 1195.7,753.2 1179.7,669.5 1163.7,586.2 1147.8,503.1 1131.9,420.2 1116.0,337.3 1100.1,254.4 1084.2,171.4 1068.2,88.1 1052.2,4.5 1036.1,-79.6" fill="none" stroke="#777" stroke-width="0.9"/>
<g id="river" fill="none" stroke="#2020ff" stroke-width="1"><path d="M189.1,142.9 L197.9,151.7 M397.7,142.9 L396.8,159.5 L397.7,163.4 L403.6,166.4 L407.5,171.2 L413.4,177.1 L414.9,179.1 L412.4,182.0 L410.4,183.9 L409.5,188.8 L407.1,189.8 L405.5,194.7 L403.6,198.6 L401.6,203.5 L398.7,204.5 L400.7,207.4 L403.6,208.4 L405.5,211.3 L384.1,220.1 L374.3,225.9 L366.5,233.8 L362.6,231.4 L354.8,237.7 L347.9,243.5 L345.0,243.5 M463.2,142.9 L465.1,155.6 L467.1,175.2 L462.2,188.8 L454.4,203.5 L457.3,206.4 L458.3,210.3 L464.1,212.3 L466.1,214.2 L470.0,215.2 L473.9,218.1 L475.9,224.0 L476.1,226.0 M395.8,296.0 L398.7,298.9 L401.2,299.4 L404.1,299.9 L402.6,301.4 L402.1,304.3 L401.6,307.2 L398.7,308.7 L398.2,310.6 L402.6,313.1 L407.5,317.0 L411.4,319.9 L415.3,322.9 L419.2,323.3 L421.0,322.9 M423.2,321.0 L421.2,318.9 L419.2,316.0 L418.7,312.1 L419.2,306.2 L417.8,304.3 L416.3,304.3 M596.6,142.9 L606.4,149.8 L608.4,155.6 L607.4,159.5 L612.3,163.4 L620.1,166.4 L625.9,169.3 L630.8,173.2 L631.8,179.1 L629.8,184.9 L625.9,190.8 L623.0,194.7 L623.0,198.6 L631.8,199.6 L635.7,201.5 L633.8,206.4 L631.8,210.3 L633.8,215.2 L639.6,218.1 L643.5,221.1 L647.4,223.0 M655.2,224.4 L668.9,225.2 M475.9,225.0 L475.9,232.2 L479.0,234.2 L484.1,236.3 L488.2,240.4 L491.3,244.5 L493.3,247.6 L495.4,249.6 L497.4,250.6"/></g>
<g id="cont" fill="none" stroke="#111" stroke-width="1"><path d="M153.9,178.1 L159.8,176.1 L167.6,176.1 L169.5,174.2 L179.3,174.8 L189.1,173.6 L194.9,171.2 L195.9,165.4 L192.0,163.4 L190.0,158.6 L189.1,154.6 L194.9,149.8 L196.9,143.9 M153.9,167.3 L156.8,169.3 L153.9,170.3 M241.8,142.9 L251.6,147.8 L262.3,157.6 L268.2,169.3 L271.1,183.0 L272.1,196.6 L269.1,208.4 L267.2,218.1 L262.3,223.0 M259.4,233.8 L265.2,237.7 L264.3,249.4 L271.1,255.2 L288.7,262.1 L280.9,265.0 L269.1,268.9 L265.2,280.0 M153.9,220.1 L161.7,221.1 L173.4,218.1 L176.4,222.0 L179.3,228.9 L185.2,230.8 L194.9,227.9 L204.7,229.8 L212.5,235.7 L214.5,241.6 L214.5,251.3 L212.5,259.1 L208.6,265.0 L212.5,269.9 L220.3,272.8 L225.2,274.8 L224.2,280.0 M320.9,142.9 L325.8,157.6 L328.1,179.1 L329.3,196.6 L330.7,214.2 L332.6,227.9 L334.6,241.6 L338.5,251.3 L347.3,265.0 L350.0,268.9 M326.8,250.4 L331.6,249.4 L335.5,253.3 L336.5,258.2 L332.6,260.1 L326.8,257.2 L325.8,253.3 L326.8,250.4 M224.2,275.0 L225.2,284.8 L223.2,294.5 L222.3,304.3 L228.1,308.2 L230.1,314.1 L230.1,325.8 L229.1,333.6 L229.1,341.4 L228.1,349.2 L227.1,357.0 L228.1,364.8 L228.1,370.7 L224.2,378.5 L220.3,386.3 L217.4,396.1 L218.4,403.9 L222.3,415.0 M265.2,275.0 L264.3,280.9 L261.3,286.7 L262.3,296.5 L263.3,304.3 L265.2,312.1 L268.2,318.9 L277.0,321.9 L278.9,329.7 L279.9,339.5 L282.8,349.2 L286.7,355.1 L287.7,364.8 L286.7,372.7 L284.8,382.4 L286.7,388.3 L284.8,396.1 L283.8,403.9 L282.8,415.0 M350.0,311.1 L339.5,311.1 L333.6,314.1 L325.8,318.9 L320.9,326.8 L321.9,333.6 L322.9,339.5 L321.9,343.4 L324.8,347.3 L325.8,352.1 L331.6,357.0 L339.5,359.0 L345.3,360.0 L346.3,364.8 L345.3,368.8 L350.0,372.7 M337.5,415.0 L342.4,405.9 L347.3,400.0 L350.0,397.1 M220.3,410.0 L224.2,417.8 L226.2,425.6 L222.3,429.5 L212.5,433.4 L206.6,437.3 L204.7,443.2 L203.7,451.0 L196.9,455.9 L189.1,457.9 L181.2,464.7 L175.4,472.5 L171.5,480.3 L167.6,485.2 L161.7,486.2 L155.9,485.2 L153.9,484.2 M283.8,410.0 L280.9,419.8 L277.0,429.5 L274.0,439.3 L273.0,449.1 L275.0,458.8 M276.0,468.6 L275.0,472.5 L267.2,473.5 L255.5,471.5 L243.8,474.5 L232.0,480.3 L222.3,483.2 L218.4,488.1 L220.3,495.9 L220.4,496.0 M344.3,490.1 L347.3,488.5 L350.0,489.7 L347.3,492.0 L344.3,490.1 M150.0,525.2 L155.9,525.2 L163.7,527.2 L166.2,531.0 M150.0,562.6 L153.5,563.5 M153.5,573.4 L150.0,574.3 M272.6,683.0 L271.1,685.0 M150.0,640.7 L153.5,639.8 M209.8,683.0 L210.5,685.0 M262.0,573.2 L265.2,574.3 L262.0,575.4 M278.9,572.3 L286.7,569.4 L294.5,569.4 L296.5,572.3 L290.6,574.3 L282.8,575.3 L278.9,572.3 M316.0,563.6 L325.8,561.6 L335.5,562.6 L341.4,566.5 L337.5,570.4 L329.7,568.4 L319.9,566.5 L316.0,563.6 M350.0,575.3 L341.4,576.2 L333.6,581.1 L341.4,584.1 L347.3,589.9 L350.0,591.9 M322.8,683.0 L325.8,685.0 M414.3,179.1 L423.1,182.0 L430.9,184.9 L435.8,190.8 L436.8,195.7 L432.9,196.6 L427.0,194.7 L419.2,190.8 L414.3,184.9 L413.4,181.0 L414.3,179.1 M345.0,260.1 L350.9,268.9 L354.4,280.0 M464.1,211.3 L467.1,214.2 L465.1,222.0 L465.1,226.0 M466.1,212.3 L479.8,218.1 L491.5,225.9 L491.5,226.0 M352.8,275.0 L357.7,281.8 L362.6,287.7 L367.5,292.6 L370.4,298.4 L376.2,303.3 L381.1,307.2 L384.1,314.1 L385.0,318.0 L388.9,320.9 L390.4,323.8 L388.0,325.3 L384.1,324.8 L377.2,323.3 L373.3,321.9 L367.5,318.0 L358.7,314.1 L351.8,312.6 L345.0,311.6 M352.3,320.9 L354.8,318.5 L359.6,319.9 L365.0,322.9 L365.5,325.8 L361.6,327.2 L354.8,327.2 L352.6,324.8 L352.3,320.9 M457.6,299.0 L457.6,299.4 L458.6,304.3 L462.5,307.2 L466.4,308.7 L465.4,311.1 L461.5,313.1 L456.6,315.0 L453.7,317.0 L451.7,319.9 L451.9,321.0 M483.5,321.0 L488.8,318.0 L491.8,314.1 L498.6,311.1 L504.5,309.2 L510.3,307.7 L518.1,306.7 L525.9,306.2 L532.8,306.4 L540.0,307.2 M482.0,306.2 L483.0,310.2 L481.0,314.1 L477.1,316.0 L471.2,317.0 L469.3,316.0 L472.2,314.1 L476.1,310.2 L479.1,306.2 M384.1,363.6 L386.0,358.7 L389.9,355.7 L393.8,355.0 M411.4,354.8 L419.2,353.3 L421.0,353.1 M384.1,363.1 L393.8,360.6 L401.6,361.1 L408.5,360.6 L413.4,359.6 L419.2,359.2 M345.0,359.6 L347.0,364.5 L347.0,370.4 L350.9,374.3 L356.7,378.2 L360.6,382.1 L359.6,386.0 L355.7,390.9 L350.9,396.8 L347.0,401.6 L345.0,403.6 M367.5,374.3 L370.4,377.2 L371.4,381.1 L371.4,385.0 L369.4,388.9 L364.5,391.9 L359.6,392.9 L357.7,396.8 L356.7,401.6 L356.7,407.5 L357.7,413.4 L357.7,415.0 M381.1,378.2 L378.2,384.1 L374.3,388.9 L371.4,393.8 L369.4,397.7 L368.4,403.6 L367.9,407.5 L369.4,411.4 L370.4,415.0 M385.0,382.1 L381.1,386.0 L378.2,390.9 L375.3,395.8 L374.3,400.7 L374.8,404.6 L376.2,406.5 M376.2,405.5 L379.2,403.6 L383.1,402.6 L385.0,399.7 L386.0,394.8 L388.0,392.9 L391.9,392.9 L395.8,394.8 L398.7,397.7 L399.7,399.7 M388.9,383.1 L393.8,381.1 L399.7,379.2 L403.6,377.2 L405.5,375.3 M362.1,398.2 L363.6,397.0 L365.7,397.5 L365.5,398.9 L363.6,399.5 L362.1,398.2 M433.9,383.1 L434.8,381.1 L438.8,380.2 L442.6,379.0 M433.9,383.1 L434.8,386.0 L438.8,387.0 L442.7,386.0 L445.0,385.0 M399.7,399.7 L403.6,397.7 L411.4,395.8 L419.2,393.8 L423.1,392.9 L428.0,393.8 L430.9,395.8 L432.9,397.7 L438.8,395.8 L445.0,395.8 M399.7,403.6 L405.5,402.6 L411.4,402.6 M436.8,404.6 L442.7,405.5 L445.0,407.5 M388.0,415.0 L391.9,411.4 L395.8,409.5 L399.7,408.5 M413.4,376.2 L415.3,374.3 L419.2,373.3 L421.0,372.9 M384.1,372.3 L389.9,374.3 L393.8,375.3 L397.7,376.2 L403.6,375.3 L407.5,374.3 L413.4,376.2 M441.1,379.0 L440.0,379.7 M440.0,384.1 L443.9,386.0 L446.8,389.9 L451.7,391.9 L459.5,390.9 L464.4,386.0 L469.3,382.1 L475.2,382.1 L481.0,383.1 L485.9,381.1 L490.8,379.2 L495.7,380.2 L500.5,382.1 L506.4,381.1 L507.4,383.1 L503.5,385.0 L498.6,388.0 L492.7,389.9 L486.9,391.9 L481.0,393.8 L478.6,395.8 L479.1,397.7 L483.9,398.7 L488.8,398.2 L490.8,399.2 L487.9,402.6 L483.9,405.5 L479.1,408.5 L476.1,412.4 L475.2,415.0 M440.0,394.8 L443.9,397.7 L448.8,402.6 L453.7,399.7 L459.5,396.8 L464.4,394.8 L468.3,390.9 L469.3,391.9 L467.3,394.8 L464.4,397.7 L463.4,401.6 L464.4,405.5 L468.3,409.5 L471.2,412.4 L472.2,415.0 M440.0,403.6 L442.9,407.5 L445.9,411.4 L446.8,415.0 M518.1,391.9 L521.1,388.9 L525.0,387.0 L527.9,384.1 L530.8,382.1 L533.8,383.1 L536.7,385.0 L539.6,388.0 M525.9,395.8 L529.8,390.9 L531.8,388.9 L533.8,390.9 L533.8,395.8 L531.8,398.7 L527.9,396.8 L525.9,395.8 M518.1,392.9 L519.1,395.8 L523.0,399.7 L525.0,401.6 L522.0,404.6 L517.1,406.5 L512.3,408.5 L510.3,411.4 L510.3,415.0 M525.9,413.4 L529.8,408.5 L531.8,409.5 L529.8,412.4 L527.9,415.0 M533.8,407.5 L536.7,401.6 L540.0,397.7 M356.7,410.0 L357.7,413.9 L354.8,416.8 L350.9,419.3 L349.4,422.7 L349.9,425.6 M390.9,410.0 L388.9,412.9 L385.0,415.9 L380.2,418.3 L374.3,419.8 L368.4,421.7 L364.5,423.7 L361.6,428.6 L357.7,433.4 L353.8,437.3 L349.9,440.3 L347.0,441.2 M369.4,410.0 L369.9,414.9 L374.3,416.3 L382.1,414.4 L385.0,412.9 L385.0,410.0 M346.0,434.4 L348.9,429.5 L350.4,428.1 M347.0,452.0 L349.9,455.9 L352.8,460.8 L357.7,463.2 L364.5,464.2 L372.3,464.2 L378.2,463.7 L382.1,462.7 L383.1,459.8 L386.0,454.9 L388.0,453.0 M388.5,453.0 L389.9,459.8 L391.9,466.6 L393.8,472.5 L394.8,477.4 L396.8,480.0 M415.3,420.7 L421.2,420.7 L429.0,420.7 L434.8,423.7 L438.8,424.6 L445.0,424.6 M440.0,424.6 L444.9,424.6 L449.8,425.6 L454.6,426.6 L458.6,428.6 L459.5,432.5 L458.6,437.3 L457.6,442.2 L459.5,446.1 L461.5,449.1 M466.4,410.0 L465.9,415.9 L465.4,421.7 L464.4,429.5 L463.4,435.4 L463.4,441.2 L465.4,444.2 L469.3,444.7 M471.2,410.0 L471.2,414.9 L472.2,421.7 L474.2,427.6 L475.2,429.5 M479.1,410.0 L477.6,412.9 L476.1,415.9 M462.5,453.0 L459.5,455.9 L457.6,460.8 L455.6,466.6 L453.7,472.5 L455.6,477.4 L459.5,479.3 M470.3,450.0 L472.2,449.1 L470.3,452.0 L468.3,455.9 L467.3,459.8 L469.3,462.7 L472.2,463.2 M469.3,436.4 L472.2,437.3 L473.2,442.2 L475.2,446.1 L477.1,451.0 L478.1,453.0 L475.2,454.9 L472.2,455.9 L471.2,457.9 L472.2,459.8 L475.2,461.8 L479.1,464.7 L482.0,467.6 L484.9,469.6 L487.9,472.5 L489.8,476.4 L490.8,480.0 M485.9,415.9 L484.9,419.8 L483.0,424.6 L481.0,429.5 L479.1,433.4 L477.1,436.4 L478.1,441.2 L481.0,446.1 L483.0,451.0 L483.9,456.9 L484.9,460.8 L487.9,464.7 L491.8,468.6 L494.7,472.5 L496.6,476.4 L497.6,480.0 M506.4,425.6 L502.5,428.6 L498.6,431.5 L496.6,435.4 L495.7,439.3 L495.7,443.2 L497.6,447.1 L499.6,451.0 L501.5,455.9 L502.5,460.8 L503.5,465.7 L505.4,469.6 L507.4,473.5 L508.4,480.0 M510.3,430.5 L513.2,427.6 L517.1,427.1 L518.1,429.0 L516.2,431.0 L513.2,432.0 L510.3,430.5 M540.0,433.4 L537.7,434.4 L533.8,436.4 L530.8,439.3 L532.8,442.2 L536.7,443.7 L540.0,444.2 M540.0,447.1 L535.7,447.6 L531.8,449.1 L527.9,452.0 L525.9,456.9 L529.8,458.8 L533.8,457.9 L537.7,455.9 L540.0,454.9 M516.2,476.4 L520.1,473.5 L525.9,471.5 L531.8,469.6 L537.7,467.6 L540.0,466.6 M531.8,480.0 L535.7,477.4 L540.0,476.4 M475.2,480.0 L477.1,477.4 L481.0,476.4 L484.9,477.4 L486.9,480.0 M525.0,413.9 L527.9,412.9 L529.8,411.0 L530.8,410.0 M535.7,415.9 L537.7,413.9 L540.0,412.9 M358.2,496.0 L358.7,492.7 L362.6,488.8 L369.4,485.9 L377.2,484.9 L386.0,485.9 L393.8,487.8 L399.7,488.8 L404.6,488.8 L405.5,485.9 L403.6,482.9 L399.7,480.0 M364.8,496.0 L364.5,494.6 L367.5,491.7 L371.4,490.7 L375.3,493.7 L375.7,496.0 M419.0,529.4 L420.2,528.8 L423.1,522.0 L426.1,519.1 L430.0,517.1 L431.9,511.2 L433.9,505.4 L436.8,501.5 L440.7,498.6 L445.0,496.6 M419.0,537.1 L423.1,536.6 L430.9,534.7 L434.8,531.8 L435.8,528.8 L430.9,527.9 L428.0,525.9 L428.0,523.0 L432.9,520.0 L436.8,519.1 L438.8,521.0 L439.7,525.9 L441.7,529.8 L442.7,532.7 L440.7,535.7 L434.8,538.6 L423.1,540.5 L419.0,541.4 M445.0,500.5 L440.7,502.5 L437.8,505.4 L436.8,509.3 L435.8,514.2 L434.8,517.1 L430.9,519.1 L428.0,521.0 L427.0,524.9 M445.0,519.1 L440.7,520.0 L438.8,523.0 L440.7,528.8 L442.7,531.8 L445.0,532.7 M419.0,545.3 L423.1,544.5 L432.9,542.5 L442.7,539.6 L445.0,538.6 M345.0,489.3 L347.0,488.3 L349.4,489.3 L348.9,491.2 L346.5,492.2 L345.0,491.2 M440.0,498.6 L444.9,496.6 L449.8,492.7 L453.7,487.8 L457.6,482.9 L460.5,481.0 L462.5,480.0 M440.0,503.4 L444.9,500.5 L449.8,499.5 L454.6,498.6 L459.5,492.7 L465.4,489.8 L470.3,485.9 L474.2,482.9 L476.1,480.0 M440.0,519.1 L443.9,522.0 L447.8,520.0 L449.8,515.2 L448.8,509.3 L447.8,504.4 L450.7,501.5 L455.6,500.5 L459.5,497.6 L463.4,495.6 L467.3,494.6 L471.2,495.6 L475.2,492.7 L479.1,487.8 L483.0,483.9 L485.9,482.9 L487.9,485.9 L486.9,491.7 L485.9,496.6 L487.9,498.6 L490.8,497.6 L495.7,495.6 L500.5,492.7 L504.5,491.7 M440.0,536.6 L442.9,534.7 L445.9,531.8 L447.8,526.9 L450.7,523.9 L453.7,519.1 L454.6,515.2 L453.7,510.3 L451.7,506.4 L451.7,504.4 L453.7,503.4 L454.6,507.3 L456.6,510.3 L460.5,512.2 L463.4,511.2 L465.4,507.3 L468.3,504.4 L471.2,502.5 L475.2,500.5 L479.1,499.5 L482.0,501.5 L483.0,506.4 L484.9,508.3 L487.9,508.3 L490.8,506.4 L493.7,503.4 L498.6,499.5 L502.5,497.6 L508.4,495.6 L512.3,494.6 L516.2,492.7 L520.1,490.7 L525.9,487.8 M459.5,550.0 L459.5,543.5 L458.6,538.6 L457.6,532.7 L459.5,530.8 L461.5,526.9 L462.5,523.0 L463.4,519.1 L466.4,516.1 L470.3,517.1 L471.2,513.2 L471.2,509.3 L471.2,504.4 L473.2,501.5 L477.1,500.0 M500.5,515.2 L499.6,513.2 L498.6,509.3 L496.6,505.9 L493.7,505.4 L491.8,508.3 L493.7,512.2 L495.7,515.2 L494.7,519.1 L492.7,522.0 L490.8,524.9 L489.8,527.9 L488.8,530.8 L486.9,532.7 L485.4,534.7 L486.9,537.1 L488.8,536.6 L490.8,534.7 L493.7,532.7 L498.6,528.8 L500.5,525.9 L501.5,522.0 L500.5,517.1 M475.2,505.4 L477.1,506.4 L476.1,509.3 L477.1,513.2 L478.1,514.2 M475.2,527.9 L478.1,526.4 L482.0,526.4 L485.9,524.9 L486.9,525.9 L483.9,527.9 L482.0,530.8 L479.1,532.7 L476.1,531.8 L474.7,529.8 L475.2,527.9 M503.5,505.4 L506.4,503.4 L510.3,503.9 L512.3,505.4 L511.3,509.3 L508.4,512.2 L504.5,512.2 L503.5,509.3 L503.5,505.4 M510.3,550.0 L508.4,547.4 L507.4,544.5 L504.5,542.5 L502.5,540.5 L506.4,538.6 L512.3,538.1 M514.2,534.7 L516.2,530.8 L518.1,526.9 L521.1,522.0 L524.0,520.0 L524.5,523.9 L523.0,528.8 L522.0,532.7 M540.0,509.3 L538.6,510.3 L535.7,513.2 L533.8,519.1 L534.7,524.9 L537.7,527.9 L540.0,528.8 M525.0,550.0 L527.9,546.4 L531.8,544.5 L534.7,546.4 L536.7,550.0 M516.2,480.0 L518.1,483.9 L522.0,486.8 L525.9,484.9 L530.8,482.0 L533.8,480.0 M512.3,494.6 L518.1,492.7 L524.0,489.8 L529.8,486.8 L535.7,484.9 L540.0,482.9 M512.3,499.5 L514.2,495.6 L520.1,493.7 L525.9,490.7 L532.8,487.8 L540.0,485.9 M516.2,499.5 L520.1,502.5 L524.0,507.3 L525.9,510.3 L523.0,512.2 L520.1,511.2 L517.1,508.3 L514.2,504.4 M525.9,512.2 L529.8,509.3 L533.8,505.4 L537.7,502.5 L540.0,501.5 M345.0,575.3 L352.8,575.3 L368.4,571.4 L384.1,570.4 L389.9,569.4 L391.9,562.6 L394.9,558.0 M419.0,545.1 L419.2,545.0 M427.0,556.7 L434.8,550.9 L440.7,552.8 L446.6,556.7 L451.4,564.5 L453.4,568.4 L454.4,574.3 L456.3,584.1 L457.3,589.9 L462.2,591.9 L472.0,595.8 L481.7,598.7 L489.5,601.6 M427.0,556.7 L425.1,564.5 L423.1,572.3 L421.2,580.2 L415.3,584.1 L413.4,589.9 L411.3,592.0 M434.8,592.0 L434.8,591.9 L438.8,588.0 L444.6,588.0 L450.5,591.9 L454.4,597.7 L454.4,601.6 M460.2,545.0 L462.2,548.9 L470.0,550.9 L481.7,552.8 L493.4,554.8 L501.2,552.8 L509.1,548.9 L513.0,545.0 M458.3,562.6 L464.1,560.6 L472.0,564.5 L475.9,570.4 L481.7,570.4 L485.6,564.5 L487.6,560.6 L493.4,559.6 L501.2,560.6 L509.1,558.7 M454.4,574.3 L466.1,572.3 L477.8,573.3 L485.6,574.3 L493.4,576.2 M458.3,588.9 L466.1,592.9 L477.8,596.8 L487.6,600.3 M448.0,604.8 L450.5,603.6 L462.2,603.6 L472.0,605.5 L479.8,605.5 L485.6,607.5 L485.6,611.4 L479.8,613.4 L472.0,611.4 L464.1,609.5 M356.3,592.0 L356.7,591.9 L356.9,592.0 M348.9,586.0 L352.8,585.0 L355.7,588.9 L355.1,592.0 M349.9,592.0 L348.9,589.9 L348.9,586.0 M448.0,629.5 L448.5,629.0 L452.4,623.1 L450.5,619.2 M448.0,651.2 L450.5,652.4 L450.5,658.3 L448.0,660.1 M361.1,683.0 L362.6,685.0 M456.3,636.8 L462.2,642.7 L464.1,648.5 L462.2,654.4 L466.1,658.3 L468.0,662.2 L464.1,666.1 L458.3,670.0 L454.4,673.9 L448.0,676.5 M435.6,683.0 L434.8,685.0 M472.0,625.1 L481.7,623.1 L493.4,621.2 L503.2,617.3 L505.2,611.4 L503.2,603.6 L503.2,589.9 L507.1,582.1 L514.9,580.2 L526.6,576.2 L534.5,572.3 L545.0,570.4 M509.1,623.1 L514.9,627.0 L516.9,632.9 L513.0,640.7 L505.2,646.6 L501.2,654.4 L501.2,662.2 L497.3,670.0 L495.4,679.8 L497.3,685.0 M545.0,642.7 L538.4,642.7 L528.6,641.7 L520.8,644.6 L516.9,650.5 L520.8,658.3 L526.6,664.1 L536.4,668.0 L545.0,666.1 M532.5,609.5 L538.4,608.5 L540.3,613.4 L545.0,619.2 M557.6,142.9 L563.4,145.9 L571.2,151.7 L579.1,157.6 L588.8,162.5 L600.5,169.3 L610.3,171.2 L622.0,171.2 L637.7,171.2 L653.3,170.3 L655.2,165.4 L654.3,155.6 L654.3,142.9 M562.5,153.7 L567.3,156.6 L568.3,159.5 L565.4,159.5 L561.5,155.6 L562.5,153.7 M611.9,198.2 L613.8,199.6 L613.8,202.1 L611.5,200.9 L611.9,198.2 M721.6,142.9 L720.7,149.8 L722.6,155.6 L718.7,163.4 L714.8,171.2 L715.8,176.1 L723.6,174.2 L732.4,168.3 L740.0,166.4 M618.1,208.4 L631.8,207.6 L645.5,210.3 L653.3,213.2 L657.2,215.2 L674.8,211.3 L692.3,207.4 L708.0,202.5 L719.7,198.6 L727.5,198.6 L740.0,199.6 M618.1,208.4 L617.7,212.3 L619.1,218.1 L622.0,220.5 M655.2,221.1 L676.7,217.1 L694.3,215.8 L709.9,215.2 L721.6,217.1 L729.5,218.1 L740.0,219.1 M653.3,226.0 L653.3,225.9 L647.4,224.0 M709.5,226.0 L709.9,225.9 L721.6,225.9 L722.5,226.0 M586.4,369.0 L590.8,369.7 M649.3,369.0 L649.0,370.0 M672.6,410.0 L676.7,415.0 M627.8,369.0 L627.6,370.0 M636.3,410.0 L637.7,415.0 M540.0,384.4 L541.0,383.7 M561.7,410.0 L563.4,411.7 L564.4,415.0 M569.9,410.0 L571.2,415.0 M577.3,410.0 L581.0,415.0 M540.0,392.2 L541.0,393.2 M541.0,402.9 L540.0,403.9 M631.8,415.0 L633.7,410.0 M638.8,410.0 L639.6,411.7 M568.3,410.0 L568.3,414.9 L571.2,417.8 L577.1,418.8 L583.0,418.8 L585.9,417.8 L582.0,414.9 L579.1,412.0 L576.1,410.0 M589.8,410.0 L590.8,413.9 L592.7,417.8 L591.8,421.7 L589.8,424.6 L585.9,427.1 L583.0,428.6 L582.0,430.5 L583.0,434.4 L582.0,438.3 L579.1,441.2 L581.0,443.2 L583.0,445.2 L583.9,448.1 L588.8,450.0 L594.7,451.0 L597.6,453.0 L599.6,455.9 L604.5,455.9 L608.4,456.9 L611.3,457.9 L614.2,457.9 L620.1,457.9 L624.0,456.9 L625.9,454.9 M540.0,432.5 L543.9,427.6 L549.8,428.6 L557.6,430.5 L559.5,432.5 L555.6,435.4 L549.8,439.3 L543.9,443.2 L540.0,444.2 M559.5,430.5 L562.5,426.6 L566.4,425.1 L569.3,426.6 L571.2,430.5 L574.2,433.4 L578.1,433.4 L574.2,436.4 L569.3,439.3 L564.4,441.2 L561.5,439.3 L560.5,435.4 L559.5,430.5 M553.9,445.2 L556.8,446.3 L558.0,449.3 L556.8,452.2 L553.9,453.4 L550.9,452.2 L549.8,449.3 L550.9,446.3 L553.9,445.2 M577.3,422.9 L579.1,423.7 L579.7,425.3 L579.1,427.1 L577.3,427.8 L575.5,427.1 L574.9,425.3 L575.5,423.7 L577.3,422.9 M572.2,452.0 L575.2,449.1 L577.1,448.6 L580.0,451.0 L581.0,453.9 L577.1,454.4 L573.2,453.9 L572.2,452.0 M540.0,449.1 L542.9,450.0 L543.9,452.0 L542.0,453.0 L540.0,453.0 M540.0,466.6 L545.9,465.7 L551.7,463.7 L555.6,458.8 L558.6,458.8 L560.5,460.8 L559.5,463.7 L555.6,465.7 M622.0,429.5 L622.0,434.4 L621.5,439.3 L623.0,444.2 L625.0,449.1 L625.9,453.9 L625.0,456.9 L623.0,457.9 M640.0,412.0 L637.7,413.9 L633.8,415.9 L629.8,418.8 L629.4,422.7 L630.8,425.6 L633.8,427.6 L637.7,428.6 L640.0,429.0 M629.8,431.5 L633.8,434.4 L636.7,439.3 L637.7,444.2 L638.6,449.1 L640.0,453.9 M629.8,437.3 L632.8,441.2 L633.8,447.1 L632.8,452.0 L631.8,455.9 M555.6,472.5 L559.5,468.6 L565.4,465.7 L572.2,464.7 L579.1,463.7 L583.0,464.7 L586.9,465.7 L590.8,464.7 L594.7,463.7 L598.6,463.2 L600.5,463.7 L596.6,466.6 L593.7,470.5 L593.3,471.0 M567.2,471.0 L569.3,469.6 L573.2,468.6 L575.6,469.1 L573.2,471.0 M556.6,480.0 L557.6,476.4 L561.0,473.8 M640.0,464.7 L637.7,465.7 L632.8,466.6 L627.9,468.6 L629.1,471.0 M642.0,410.0 L643.9,414.9 L644.9,421.7 L644.4,428.6 L645.9,431.5 L647.8,434.4 L646.8,437.3 L643.9,437.3 L640.0,435.4 M640.0,416.8 L642.0,419.8 L642.0,424.6 L640.0,427.6 M659.5,410.0 L660.5,412.9 L665.4,414.9 L670.3,418.8 L672.2,422.7 L669.3,425.6 L667.3,428.6 L666.9,433.4 L667.3,438.3 L671.2,439.3 L675.2,440.3 L678.1,445.2 L681.0,450.0 L683.0,454.9 L684.9,459.8 L685.9,464.7 L686.9,468.6 L690.8,471.5 L696.6,472.0 L702.5,468.6 L708.4,468.6 L714.2,469.6 L722.0,469.6 L729.8,470.1 L735.7,470.5 L740.0,471.0 M679.1,410.0 L682.0,413.9 L683.9,418.8 L684.9,423.7 L684.4,427.6 L681.0,430.5 L680.0,434.4 L682.0,439.3 L684.9,443.2 L688.8,446.1 L693.7,447.1 L695.7,450.0 L696.2,453.0 L698.6,453.9 L702.5,455.9 L706.4,457.9 L711.3,458.8 L718.1,459.8 L723.0,461.8 L727.9,464.2 L733.8,465.7 L740.0,466.2 M640.0,448.1 L643.9,449.1 L649.8,449.1 L652.7,446.6 L656.6,446.1 L661.5,449.1 L663.4,453.0 L662.5,455.9 L659.5,457.9 L658.6,460.8 L660.5,463.7 L663.4,466.2 L667.3,465.7 L671.2,466.6 L674.2,468.6 L676.1,467.6 L676.1,462.7 L678.1,459.8 L680.0,460.8 L681.0,463.7 L680.0,466.6 L679.1,468.6 L681.0,471.5 L684.9,474.5 L687.9,477.4 L690.8,480.0 M640.0,466.6 L643.9,469.6 L645.9,470.5 L645.9,464.7 L645.9,458.8 L645.9,454.9 L647.8,455.9 L649.8,458.8 L653.7,461.8 L657.6,464.7 L658.6,469.6 L658.2,471.0 M659.0,478.6 L659.5,480.0 M650.7,466.6 L652.7,465.2 L655.1,466.6 L654.7,471.0 M651.0,471.0 L650.7,468.6 L650.7,466.6 M666.4,480.0 L666.4,473.5 L668.3,470.5 L670.3,471.5 L672.2,475.4 L675.2,477.4 L679.1,476.4 L683.0,477.4 L684.9,480.0 M700.5,480.0 L704.5,477.4 L710.3,476.4 L716.2,477.4 L723.0,476.4 L729.8,475.4 L733.8,474.5 L736.7,475.4 L738.6,478.4 L740.0,480.0 M540.0,530.8 L543.9,528.8 L549.8,526.9 L557.6,526.9 L561.0,524.8 M540.0,498.6 L542.0,495.6 L546.8,494.6 L550.7,496.6 L551.7,501.5 L550.7,506.4 L548.8,508.3 L545.9,509.3 L543.9,512.2 L544.9,515.2 L547.8,516.1 L549.8,517.1 L552.7,515.2 L554.6,512.2 L551.7,510.3 L548.8,509.3 M542.0,550.0 L545.9,545.4 L549.8,544.5 L552.7,547.4 L553.7,550.0 M559.5,550.0 L561.0,548.6 M659.0,482.1 L659.5,482.9 L660.5,485.9 L661.5,487.8 M661.5,480.0 L665.4,483.9 L666.4,487.8 L665.4,491.7 L663.4,494.6 M667.3,480.0 L668.3,483.9 L671.2,488.8 L669.3,491.7 L665.4,493.7 M671.2,496.6 L674.2,495.1 L677.1,497.6 L679.1,502.5 L682.0,506.4 L683.0,510.3 L682.0,513.2 L679.1,514.2 L676.1,511.2 L673.2,506.4 L671.2,501.5 L671.2,496.6 M685.9,499.5 L687.9,498.1 L690.8,498.6 L692.7,500.5 L690.8,502.5 L687.9,502.5 L685.9,500.5 M671.2,480.0 L670.3,482.9 L672.2,485.9 L677.1,487.8 L682.0,490.7 L685.9,493.7 L690.8,495.6 L696.6,494.6 L701.5,493.7 L703.5,495.6 L700.5,498.6 L696.6,499.5 L694.7,502.5 L692.7,505.4 L688.8,506.4 L683.9,505.4 L679.1,502.5 M688.8,480.0 L690.8,482.0 L694.7,483.9 L699.6,485.9 L704.5,484.9 L708.4,483.9 L714.2,482.9 L718.1,482.0 L723.0,482.0 M674.2,480.0 L677.1,482.0 L681.0,483.9 L686.9,485.9 L693.7,487.8 L698.6,488.8 L703.5,487.8 L708.4,485.9 L714.2,483.9 L720.1,482.0 L725.0,481.0 L729.8,482.0 L731.8,484.9 L729.8,487.8 L728.9,491.7 L729.8,495.6 L732.8,498.6 L737.7,500.5 L740.0,501.5 M710.3,489.8 L714.2,487.8 L720.1,486.3 L724.0,486.8 L725.9,489.8 L724.0,493.7 L721.1,496.6 L718.1,499.5 L716.2,501.5 M710.3,489.8 L714.2,492.7 L717.1,495.6 L718.1,499.5 M704.5,503.4 L708.4,500.5 L714.2,499.5 L718.1,500.5 L722.0,499.5 L727.9,501.5 L733.8,503.4 L740.0,504.4 M704.5,503.4 L704.5,506.4 L707.4,509.3 L712.3,512.2 L717.1,515.2 L719.1,519.1 L721.1,523.0 L720.1,523.9 L716.2,523.0 L711.3,521.0 L707.4,519.1 L702.5,517.1 L698.6,515.2 L695.7,516.1 L693.7,519.1 L693.7,523.0 L694.7,524.9 M733.8,480.0 L737.7,482.0 L740.0,482.9 M740.0,490.7 L736.7,492.7 L737.7,496.6 L740.0,497.6 M664.4,512.2 L667.3,517.1 L666.4,521.0 L665.4,523.9 L667.3,526.9 L669.3,530.8 L668.3,534.7 L665.4,538.6 L666.4,542.5 L669.3,544.5 L673.2,543.5 L677.1,541.5 L681.0,540.5 L683.9,542.5 L686.9,546.4 L688.8,550.0 M681.0,523.9 L682.0,528.8 L683.0,534.7 L684.9,538.6 L688.8,540.5 L692.7,542.5 L695.7,546.4 L696.6,550.0 M659.0,521.0 L663.4,521.0 L666.4,523.0 L669.3,525.9 M540.0,548.9 L543.9,547.0 L545.9,545.0 M551.7,545.0 L552.7,548.9 L554.6,551.8 L559.5,549.9 L561.0,549.0 M549.8,569.4 L549.8,564.5 L547.8,561.6 M556.6,559.6 L559.5,556.7 L561.0,555.6 M540.0,577.2 L544.9,578.2 L549.8,579.2 L554.6,581.1 L557.6,584.1 L560.5,588.0 L561.0,588.2 M584.1,614.0 L585.9,615.0 M557.6,564.5 L561.0,567.1 M551.7,615.0 L552.7,608.5 L555.6,601.6 L558.6,598.2 L560.5,599.7 L560.5,605.5 L561.0,608.5 M562.2,614.0 L562.5,615.0 M579.1,615.0 L579.6,614.0 M592.2,614.0 L592.7,615.0 M609.0,614.0 L609.3,615.0 M635.8,614.0 L635.7,615.0 M714.2,554.8 L718.1,558.7 L723.0,564.5 L726.9,571.4 L730.8,577.2 L734.7,581.1 L738.6,583.1 L740.0,583.6 M659.0,573.8 L660.5,574.3 L659.0,575.3 M659.0,584.0 L659.5,584.1 L662.5,585.0 L661.5,588.0 L659.0,589.2 M659.0,609.7 L659.5,610.4 L662.5,615.0 M659.0,559.8 L659.5,559.6 L663.4,561.6 L666.4,564.5 L665.4,566.5 L661.5,565.5 L659.0,564.3 M666.4,554.8 L668.3,555.7 L669.3,557.7 L667.3,558.2 L666.4,556.7 M677.1,555.7 L680.0,555.3 L682.0,557.7 L684.9,560.6 L688.8,562.6 L691.8,563.6 M686.9,545.0 L687.9,548.9 L686.9,553.8 L688.8,556.7 L692.7,558.7 M694.7,558.7 L696.6,561.6 L698.6,563.6 L701.5,565.5 L700.5,566.0 L697.6,565.5 L695.7,564.5 M672.2,572.3 L675.2,574.3 L677.1,577.2 L679.1,581.1 L681.0,584.1 L680.0,586.0 L676.1,584.1 L672.2,583.1 L669.3,584.1 L667.3,588.0 L666.4,592.9 L664.4,595.8 L663.4,592.9 L662.5,589.9 L661.5,586.0 M681.0,568.4 L684.9,570.4 L688.8,573.3 L692.7,576.2 L694.7,579.2 L697.6,582.1 L700.5,585.0 L700.5,588.9 L699.6,592.9 L700.5,595.8 L703.5,594.8 M694.7,573.3 L695.7,576.2 L698.6,579.2 L703.5,581.1 L708.4,582.1 M698.6,571.4 L704.5,570.4 L708.4,572.3 L714.2,574.3 L718.1,576.2 L722.0,579.2 L725.0,582.1 L727.9,586.0 L731.8,589.9 L733.8,591.9 L737.7,593.8 L740.0,592.9 M717.1,571.4 L720.1,569.4 L723.0,570.9 L723.0,573.3 L720.1,574.3 L717.1,573.3 L717.1,571.4 M669.3,595.8 L673.2,593.8 L679.1,592.9 L684.9,592.9 L690.8,592.9 L696.6,593.8 L699.6,595.8 M683.0,599.7 L685.9,596.8 L690.8,596.8 L693.7,598.7 L692.7,601.6 L689.8,603.6 L688.8,607.5 L685.9,608.5 L683.0,605.5 L682.0,602.6 L683.0,599.7 M695.7,606.5 L697.6,604.6 L700.5,604.6 L701.5,607.5 L699.6,610.4 L696.6,609.5 L695.7,606.5 M706.4,599.7 L708.4,596.8 L710.3,596.8 L712.3,599.7 L714.2,603.6 L712.3,605.5 L708.4,603.6 L706.4,601.6 L706.4,599.7 M714.2,599.7 L716.2,595.8 L719.1,594.8 L722.0,595.8 L724.0,598.7 L725.9,603.6 L727.9,607.5 L729.8,611.4 L727.9,615.0 M724.0,599.7 L726.9,597.7 L729.8,598.7 L731.8,603.6 L733.8,607.5 L736.7,609.5 L740.0,608.5 M706.4,615.0 L707.4,611.4 L710.3,609.5 L714.2,610.4 L716.2,613.4 L717.1,615.0 M727.9,590.9 L731.8,588.9 L733.8,588.0 L737.7,587.0 L740.0,587.5 M648.5,614.0 L648.8,615.0 M642.8,614.0 L642.9,615.0 M664.4,601.6 L666.4,603.6 L668.3,607.5 L669.3,611.4 L670.3,615.0 M672.2,615.0 L673.2,611.4 L675.2,608.5 L679.1,606.5 L682.0,607.5 L683.0,611.4 L683.9,615.0 M737.7,545.0 L738.6,547.9 L740.0,549.9 M720.1,545.0 L722.0,547.0 L727.9,548.9 L732.8,547.9 L737.7,548.9 M550.7,610.0 L551.7,614.9 L550.7,618.8 L546.8,619.8 L542.0,618.8 L540.0,617.8 M560.5,610.0 L560.5,612.9 L561.0,613.1 M563.4,614.0 L564.4,614.4 L568.4,614.0 M573.4,614.0 L575.2,614.9 L579.1,617.8 L583.9,618.8 L588.8,620.7 L593.7,621.7 L596.6,623.7 L598.6,629.5 L600.5,633.4 M540.0,642.2 L545.9,642.2 L550.7,646.1 L553.7,651.0 L553.7,653.9 L549.8,656.9 L544.9,659.8 L540.0,662.7 M601.5,634.4 L606.4,633.4 L610.3,633.4 L614.2,635.4 L618.1,638.3 L623.0,639.3 L627.9,640.3 L631.8,645.2 L635.7,647.1 L640.0,647.6 M603.6,614.0 L606.4,615.9 L608.4,619.8 L611.3,623.7 L615.2,626.6 L621.1,628.6 L625.9,629.5 L629.8,630.5 L633.8,632.5 L637.7,631.5 L640.0,630.5 M607.4,614.0 L610.3,618.8 L614.2,623.7 L618.1,626.6 L622.0,628.1 M611.3,614.0 L614.2,619.8 L617.1,624.6 L621.1,626.6 L625.0,626.6 L627.9,627.6 L631.8,628.6 L634.7,629.5 L637.7,627.6 L640.0,625.6 M610.3,630.5 L616.2,631.5 L623.0,633.4 L627.9,633.4 L631.8,635.4 L636.7,637.3 L640.0,639.3 M637.9,614.0 L638.6,616.8 L640.0,619.8 M640.0,629.5 L643.9,631.5 L647.8,633.4 L653.7,634.4 L659.5,635.4 L661.0,636.1 M661.0,640.4 L655.6,641.2 L650.7,642.2 L649.8,645.2 L651.7,648.1 L655.6,650.0 L661.0,650.9 M644.7,614.0 L644.9,614.9 L643.9,619.8 L643.9,624.6 L645.9,628.6 L649.8,629.5 M649.6,614.0 L649.8,614.9 L649.8,620.7 L651.7,621.7 L657.6,620.7 L661.0,621.4 M656.6,624.6 L659.5,623.7 L661.0,624.2 M640.0,642.2 L643.9,645.2 L647.8,649.1 L649.8,653.0 L654.6,655.9 L659.5,656.9 L661.0,657.1 M640.0,649.1 L642.9,653.9 L645.9,656.9 L649.8,658.8 L654.6,660.8 L659.5,661.8 L661.0,662.0 M653.7,647.1 L655.6,644.2 L659.5,644.2 L661.0,644.9 M653.7,647.1 L654.6,650.0 L659.5,652.0 L661.0,652.2 M661.5,610.0 L663.4,613.9 L666.4,617.8 L668.8,621.0 M667.3,610.0 L669.3,615.9 L671.2,619.8 L672.5,621.0 M696.6,618.8 L698.6,617.8 L702.5,618.8 L703.5,620.7 L703.2,621.0 M697.3,621.0 L697.1,620.7 L696.6,618.8 M682.0,610.0 L682.0,613.9 L684.9,617.8 L688.8,619.8 L690.5,621.0 M706.4,610.0 L707.4,613.9 L706.4,617.8 L705.8,621.0 M710.3,610.0 L712.3,612.0 L715.2,612.9 L716.2,610.0 M725.9,610.0 L726.9,612.9 L730.8,614.9 L735.7,612.9 L740.0,612.0 M745.0,143.0 L755.0,148.0 L765.0,147.0 L775.0,146.0 L785.1,147.0 L795.1,144.0 M735.0,166.0 L743.0,169.0 L751.0,165.0 L765.0,160.0 L775.0,157.6 L780.0,156.6 M735.0,208.1 L743.0,207.1 L759.0,200.1 L775.0,195.1 L780.0,193.7 M744.0,233.6 L751.0,230.1 L761.0,226.1 L775.0,230.1 L784.0,231.1 M735.0,202.1 L739.0,204.1 L741.0,200.1 L737.0,199.1 L735.0,199.7 M913.2,149.0 L921.2,148.0 L933.2,146.0 L937.2,147.0 M914.2,152.0 L919.2,154.0 L927.2,155.0 L933.2,156.0 L936.2,160.0 L937.2,166.0 M886.2,148.0 L887.2,150.0 M925.2,194.1 L928.2,192.1 L934.2,192.1 L937.2,195.1 L934.2,197.1 L927.2,197.1 L925.2,194.1 M783.0,268.1 L795.1,264.1 L811.1,258.1 L821.1,250.1 L831.1,244.1 L847.1,236.1 L859.1,232.1 L867.1,233.1 L869.1,236.1 L866.1,240.1 L865.1,248.1 L873.1,251.1 L883.1,249.1 L885.2,240.1 L893.2,234.1 L901.2,230.1 L905.2,227.1 L907.2,228.1 L915.2,228.1 L927.2,229.1 L935.2,230.1 L940.0,231.1 M807.1,241.1 L810.1,240.1 L811.5,242.1 L809.1,243.7 L806.7,242.5 L807.1,241.1 M783.0,244.1 L792.1,243.1 L795.1,246.1 L796.1,252.1 L791.1,256.1 L789.1,260.1 L785.1,262.1 L782.0,258.1 L783.0,252.1 L785.1,249.1 M744.0,272.6 L747.0,272.1 L755.0,268.1 L765.0,266.1 M780.0,156.8 L796.4,154.4 L814.2,162.3 L834.7,167.8 L840.2,173.2 L847.0,175.3 L851.1,180.8 L855.2,184.2 L855.9,188.3 M780.0,193.8 L799.1,191.0 L821.0,186.2 L841.5,191.0 M867.5,150.0 L866.1,154.1 L857.9,156.2 L851.1,158.2 L851.1,160.9 L862.0,162.3 L878.4,166.4 L888.0,171.9 L889.4,176.7 L897.6,180.1 L905.8,186.2 L903.1,189.6 L886.6,191.7 L878.4,195.1 L864.8,200.6 L849.7,206.1 L844.3,210.2 L836.1,215.6 L825.1,217.0 L811.4,222.5 L796.4,229.3 L793.7,230.0 M894.2,208.1 L895.5,207.7 L896.2,209.1 L894.8,209.9 L894.2,208.1 M900.6,202.6 L902.0,201.4 L903.3,203.0 L900.6,203.0 M786.8,202.0 L789.6,199.9 L795.0,199.2 L797.1,200.6 L795.0,204.0 L790.3,204.7 L786.8,203.3 L786.8,202.0 M744.0,294.4 L749.0,291.0 L753.0,285.0 L755.0,281.0 L759.0,277.0 L763.0,275.0 M744.0,302.0 L747.0,300.0 L753.0,297.0 L760.0,295.0 L764.0,298.0 L764.6,305.0 L763.0,310.0 L755.0,312.0 L747.0,316.0 L744.0,319.1 M735.0,465.9 L741.2,466.4 L751.4,469.0 L763.7,469.0 L771.9,467.9 L780.1,472.0 L788.3,472.6 L796.5,473.1 L801.7,471.5 L808.8,473.6 L817.0,475.1 L822.2,476.7 L825.2,480.0 M735.0,470.5 L741.2,473.1 L750.4,474.6 L760.6,476.7 L765.8,480.0 M775.0,470.0 L787.1,472.0 L799.1,471.0 L807.1,473.0 L819.1,478.0 L831.1,482.0 L839.1,485.0 L851.1,482.0 L863.1,478.0 L875.1,474.0 L887.2,472.0 L895.2,470.0 M735.0,474.0 L743.0,478.0 L751.0,482.0 L759.0,482.0 L767.0,484.0 L775.0,486.0 L785.1,485.0 L791.1,482.0 L801.1,481.0 M741.0,482.4 L745.0,481.0 L749.0,483.0 L745.0,485.0 L741.0,482.4 M735.0,496.0 L745.0,498.0 L755.0,500.0 L765.0,496.0 L775.0,496.0 L785.1,498.0 L795.1,502.0 L801.1,503.0 L811.1,502.0 L823.1,504.0 L833.1,508.0 L843.1,506.0 L853.1,502.0 L863.1,500.0 L875.1,498.0 L883.1,498.0 L883.1,502.0 L879.1,505.0 L869.1,506.0 L861.1,507.0 M735.0,490.0 L747.0,494.0 L757.0,498.0 L767.0,500.0 M735.0,501.0 L743.0,503.0 L751.0,504.0 L759.0,506.0 L767.0,510.0 L775.0,512.0 M863.1,500.0 L871.1,494.0 L875.1,490.0 L883.1,488.0 L893.2,484.0 L903.2,482.0 L911.2,481.0 L921.2,480.0 L931.2,480.0 L933.2,490.0 L935.2,500.0 L933.2,510.0 L927.2,516.0 L923.2,518.0 L931.2,520.1 L935.2,521.1 L940.0,522.1 M803.1,505.0 L807.1,504.0 L811.1,505.0 L810.1,507.0 L805.1,508.0 L803.1,506.0 M801.1,510.0 L809.1,512.0 L819.1,512.0 L831.1,510.0 L839.1,512.0 L847.1,510.0 L851.1,508.0 L855.1,504.0 L859.1,505.0 L861.1,510.0 L867.1,516.0 L863.1,519.0 L857.1,518.0 L847.1,518.0 L835.1,518.0 L823.1,518.0 L811.1,518.0 L801.1,516.0 L797.1,518.0 L801.1,520.1 L809.1,521.1 M807.1,518.0 L813.1,515.0 L821.1,515.0 L823.1,518.0 L819.1,520.1 L811.1,520.1 L807.1,518.0 M855.1,504.0 L859.1,503.0 L861.1,507.0 L859.1,510.0 L855.1,509.0 L854.1,506.0 L855.1,504.0 M889.2,494.0 L893.2,493.0 L895.2,495.0 L891.2,496.0 L889.2,494.0 M831.1,532.1 L837.1,529.1 L845.1,528.1 L849.1,530.1 L847.1,533.1 L839.1,535.1 L833.1,535.1 L831.1,532.1 M857.1,524.1 L860.1,524.1 L861.1,527.1 L858.1,528.1 L857.1,526.1 M853.1,534.1 L863.1,532.1 L875.1,522.1 L883.1,513.0 L895.2,512.0 L899.2,514.0 L901.2,512.0 L905.2,513.0 L907.2,518.0 L915.2,522.1 L925.2,524.1 L933.2,523.1 L940.0,522.1 M881.1,516.0 L884.1,514.0 L885.2,517.0 L882.1,518.0 L881.1,516.0 M783.0,550.1 L783.0,540.1 L781.0,530.1 L783.0,524.1 M757.0,540.1 L763.0,538.1 L771.0,540.1 L775.0,544.1 L779.0,548.1 M933.2,522.1 L935.2,530.1 L935.2,540.1 L933.2,550.1 M887.2,536.1 L891.2,530.1 L895.2,526.1 L897.2,522.1 L901.2,518.0 M858.6,480.0 L865.8,475.9 L874.0,471.8 L882.2,469.2 L892.4,467.7 L900.6,465.6 L908.8,463.6 L915.0,459.5 L922.2,456.4 L929.3,452.3 L935.5,449.2 L937.5,450.2 L936.5,455.4 L935.0,461.5 L935.5,465.6 L937.5,467.7 M901.7,480.0 L908.8,476.4 L917.0,476.9 L923.2,474.9 L928.3,471.8 L933.4,470.8 L937.5,470.2 M937.5,422.6 L938.1,430.8 L937.5,437.9 M740.1,547.1 L745.3,546.0 L750.4,548.1 L751.4,550.1 L748.3,553.2 L743.2,554.2 L740.1,553.2 M763.7,545.0 L767.8,549.1 L769.9,553.2 L768.8,556.3 L767.8,560.4 L769.9,564.5 M774.0,545.0 L776.0,547.1 L779.1,546.0 M774.0,558.3 L778.1,556.3 L783.2,557.3 L787.3,560.4 L788.3,564.5 L786.3,566.5 L783.2,566.5 L779.1,564.5 L775.0,561.4 L774.0,558.3 M747.3,554.2 L753.5,558.3 L758.6,562.4 L762.7,565.5 L765.8,568.6 L769.9,571.7 L774.0,575.8 L778.1,578.8 L782.2,582.9 L785.2,587.0 L787.3,591.1 M751.4,568.6 L755.5,567.6 L759.6,569.6 L762.7,573.7 L763.7,577.8 L762.7,579.9 L759.6,580.9 L756.5,577.8 L754.5,573.7 L751.9,570.6 L751.4,568.6 M820.1,545.0 L822.2,549.1 L823.2,553.2 L822.2,559.4 L820.1,564.5 L822.2,569.6 L824.2,574.7 L829.3,574.7 L834.5,575.8 L838.6,578.8 L840.0,581.9 M792.4,575.8 L795.5,577.8 L796.5,581.9 L797.6,586.0 L799.6,589.1 L802.7,591.1 L803.7,595.2 L801.7,598.3 L796.5,599.3 L792.4,600.4 L786.3,600.9 L780.1,601.4 L776.0,602.4 M812.9,602.4 L815.0,599.3 L817.0,597.3 L820.1,594.2 L823.2,590.1 L825.2,586.0 L829.3,584.0 L833.4,582.9 L837.5,582.4 L840.0,582.9 M735.0,587.0 L739.1,586.0 L743.2,587.0 L746.3,590.1 L747.3,594.2 L745.3,598.3 L741.2,599.3 L737.1,597.3 L735.0,596.3 M750.4,596.3 L755.5,594.2 L759.6,596.3 L761.7,599.3 L763.7,602.4 M755.5,599.3 L757.6,598.8 L760.6,601.4 L762.7,604.5 L760.6,605.5 L757.6,603.4 L755.5,601.4 L755.5,599.3 M735.0,600.4 L737.1,603.4 L739.1,608.6 L741.2,615.0 M780.1,606.5 L786.3,604.5 L792.4,604.5 L798.6,605.5 L804.7,606.5 L810.9,607.6 L815.0,606.5 M778.1,615.0 L782.2,611.7 L786.3,610.6 L792.4,611.7 L796.5,613.7 L798.6,615.0 M816.0,611.7 L820.1,609.6 L825.2,610.6 L827.3,613.7 L828.3,615.0 M835.0,547.1 L843.2,546.5 L851.4,545.5 L860.6,545.0 L862.7,547.1 L865.8,546.0 L868.8,545.0 M861.7,547.1 L866.8,549.1 L869.9,552.2 L870.9,555.3 L869.9,558.3 L874.0,558.3 L879.1,557.3 L880.1,553.2 L883.2,549.1 L888.3,546.5 L892.4,548.1 L893.4,551.2 L891.4,555.3 L888.3,558.3 L886.3,561.4 L886.3,565.5 L885.2,569.6 L878.1,570.1 L875.0,568.6 L870.9,567.0 L864.7,567.0 L862.7,568.6 L865.8,571.7 L869.9,574.7 L870.9,579.9 L874.0,582.9 L879.1,584.0 L882.2,588.1 L884.2,590.1 L892.4,590.6 L899.6,591.1 L902.7,594.2 L906.8,597.3 L909.9,601.4 L908.8,605.5 L904.7,607.6 L898.6,609.6 L894.5,612.7 L893.4,615.0 M904.7,556.3 L906.8,556.3 L911.9,558.3 L911.9,561.4 L906.8,562.4 L901.7,564.5 L899.6,562.4 L900.6,559.4 M835.0,575.8 L838.1,577.8 L839.1,580.9 L838.1,583.5 L835.0,584.0 M915.0,598.3 L919.1,596.3 L925.2,596.3 L926.3,600.4 L924.2,604.5 L920.1,608.6 L917.0,608.6 L915.0,605.5 L915.0,600.4 L915.0,598.3 M934.5,545.0 L935.5,549.1 L936.5,554.2 L934.5,558.3 L932.4,563.5 L934.5,568.6 L935.5,573.7 L934.5,577.8 L936.5,580.9 L937.5,582.9 M937.5,606.5 L936.5,610.6 L937.5,615.0 M838.1,590.1 L839.6,590.6 L841.2,592.2 M739.1,610.0 L741.2,613.1 L744.2,617.2 L746.3,620.3 M757.6,610.0 L758.6,614.1 L762.7,616.2 L765.8,620.3 L766.8,624.4 L763.7,626.4 L759.6,627.4 L759.0,628.0 M759.0,632.4 L759.6,633.6 L761.7,638.7 L764.7,642.8 L767.8,646.9 L770.9,652.0 L772.9,657.2 L776.0,661.3 M762.7,610.0 L763.7,614.1 L767.8,617.2 L771.9,620.3 M764.7,630.5 L768.8,629.5 L771.9,630.5 L772.9,634.6 L774.0,638.7 L776.0,643.8 L777.0,647.9 L775.0,650.0 L771.9,649.0 L769.9,644.9 L767.8,639.7 L765.8,635.6 L764.7,630.5 M780.1,632.6 L784.2,631.5 L787.3,634.6 L790.4,637.7 L793.4,641.8 L795.5,647.9 L795.5,651.0 L792.4,653.1 L788.3,652.0 L784.2,650.0 L782.2,645.9 L780.1,640.8 L779.1,635.6 L780.1,632.6 M759.6,649.0 L761.7,645.9 L763.7,646.9 L763.7,651.0 L761.7,652.0 L759.6,651.0 L759.6,649.0 M775.0,657.2 L778.1,653.1 L782.2,651.0 L785.2,652.0 L787.3,655.1 L784.2,658.2 M763.7,663.3 L765.8,661.3 L769.9,662.3 L772.9,666.4 L774.0,670.5 L771.9,674.6 L768.8,675.6 L765.8,673.6 L763.7,669.5 L763.7,663.3 M759.0,677.4 L759.6,677.7 L763.7,679.7 L765.8,681.8 M780.1,681.8 L781.1,673.6 L783.2,667.4 L786.3,663.3 L790.4,661.3 L792.4,663.3 M784.2,681.8 L785.2,673.6 L788.3,670.5 L792.4,669.5 L796.5,671.5 L800.6,674.6 L804.7,677.7 L808.8,681.8 M790.4,681.8 L792.4,676.7 L795.5,675.6 L799.6,677.7 L802.7,680.8 M795.5,655.1 L798.6,658.2 L802.7,662.3 L806.8,667.4 L810.9,671.5 L814.0,675.6 L816.0,679.7 L817.0,681.8 M796.5,655.1 L800.6,659.2 L804.7,664.3 L808.8,669.5 L812.9,673.6 L816.0,677.7 L819.1,681.8 M801.7,655.1 L806.8,654.1 L812.9,654.1 L819.1,654.1 L821.1,655.1 L819.1,657.2 L815.0,659.2 L814.0,662.3 L815.0,667.4 L816.0,671.5 L817.0,675.6 L819.1,679.7 L821.1,681.8 M796.5,650.0 L802.7,649.0 L808.8,649.0 L815.0,649.0 L821.1,647.9 L827.3,645.9 L831.4,643.8 L833.4,641.8 L835.5,644.9 L836.5,647.9 L835.5,651.0 L832.4,653.1 L828.3,655.1 L824.2,657.2 L820.1,659.2 L817.0,661.3 L816.0,664.3 M794.5,642.8 L796.5,640.8 L800.6,639.2 L804.7,639.2 L805.8,640.8 L802.7,641.8 L798.6,642.8 L795.5,642.8 M794.5,635.6 L798.6,634.6 L800.6,631.5 L802.7,627.4 L806.8,626.4 L807.8,628.5 L805.8,630.5 M781.1,610.0 L783.2,613.1 L789.3,614.1 L792.4,613.1 L794.5,616.2 L793.4,620.3 L792.4,622.3 M797.6,610.0 L798.6,614.1 L802.7,616.2 L808.8,614.1 L811.9,613.1 M816.0,612.1 L817.0,615.1 L819.1,616.2 L823.2,616.2 L829.3,617.2 L835.5,618.2 L840.0,618.2 M812.9,622.3 L817.0,621.3 L822.2,621.3 L824.2,622.3 L822.2,625.4 L822.2,628.5 L825.2,630.5 L830.4,631.5 L835.5,630.5 L840.0,630.5 M810.9,626.4 L812.9,630.5 L817.0,633.6 L821.1,636.7 L825.2,639.7 L829.3,640.8 L832.4,640.8 M835.0,616.2 L840.1,616.2 L844.2,619.2 L845.3,624.4 L844.2,628.5 L841.2,631.5 L837.1,632.6 L835.0,633.1 M854.5,620.3 L859.6,618.2 L865.8,617.2 L870.9,618.7 L870.9,622.3 L868.8,624.4 L862.7,625.4 L857.6,625.9 L855.0,624.4 L854.5,620.3 M847.3,633.6 L850.4,632.0 L853.5,633.6 L852.4,636.7 L849.4,637.2 L847.3,635.1 L847.3,633.6 M859.6,634.6 L861.7,632.6 L864.7,633.6 L867.8,636.7 L865.8,639.7 L862.7,639.7 L860.6,637.7 L859.6,634.6 M862.7,639.7 L865.8,640.8 L867.8,643.8 L865.8,645.9 L863.7,642.8 M874.0,634.6 L876.0,634.1 L876.5,636.7 L875.0,637.2 L874.0,635.6 L874.0,634.6 M835.0,638.7 L841.2,638.7 L846.3,639.7 L848.3,643.8 L849.4,647.9 L851.4,651.0 L846.3,652.0 L842.2,655.1 L840.1,659.2 L839.1,664.3 L841.2,669.5 L843.2,673.6 L844.2,677.7 L847.3,681.8 L850.4,682.8 M896.5,610.0 L893.4,614.1 L891.4,617.2 L884.2,617.7 L878.1,619.2 L876.0,622.3 L877.0,627.4 L872.9,627.9 L869.9,628.5 L868.8,631.5 L868.8,636.7 L869.9,639.7 L874.0,642.8 L878.1,645.9 L882.2,650.0 L883.2,655.1 L885.2,659.2 L890.4,661.3 L896.5,662.3 L901.7,661.3 L902.7,657.2 L901.7,653.1 L906.8,651.0 L910.9,652.0 L915.0,654.1 L920.1,655.1 L925.2,656.1 L929.3,658.2 L932.4,662.3 L932.4,666.4 L927.3,668.4 L925.2,671.5 L925.2,676.7 L923.2,679.7 L919.1,681.8 L912.9,682.8 M880.1,622.3 L884.2,621.3 L888.3,623.3 L892.4,622.3 L898.6,622.3 L904.7,623.3 L910.9,624.4 L916.0,625.4 L917.0,629.5 L914.0,632.6 L911.9,637.7 L912.9,640.8 L917.0,641.8 L921.1,643.8 L925.2,641.8 L929.3,636.7 L934.5,633.6 L937.5,633.6 M880.1,623.3 L882.2,626.4 L885.2,630.5 L887.3,632.6 L892.4,633.6 L898.6,632.6 L902.7,631.5 L900.6,629.5 L896.5,627.4 L892.4,625.4 L889.3,624.4 L887.3,627.4 L888.3,630.5 M887.3,633.6 L890.4,634.6 L896.5,636.7 L899.6,638.7 L898.6,640.8 L893.4,640.8 L888.3,641.8 L885.2,642.8 L887.3,644.9 L892.4,646.9 L898.6,647.9 L906.8,647.9 L910.9,649.0 L915.0,651.0 L918.1,652.0 L923.2,651.0 L929.3,650.0 L933.4,651.0 L936.5,653.1 L937.5,655.1 M915.0,618.2 L921.1,617.2 L927.3,616.2 L933.4,617.2 L937.5,619.2 L937.5,624.4 L933.4,628.5 L927.3,630.5 L921.1,629.5 L917.0,626.4 L915.0,622.3 L915.0,618.2 M923.2,621.3 L926.3,619.7 L930.4,620.3 L932.4,623.3 L930.4,625.4 L926.3,626.4 L923.7,624.4 L923.2,621.3 M927.3,639.7 L929.3,638.2 L931.9,638.7 L932.4,640.8 L930.4,643.8 L928.3,643.8 L927.3,641.8 L927.3,639.7 M914.0,645.9 L916.0,645.4 L917.5,647.4 L916.0,648.5 L914.5,647.4 L914.0,645.9 M842.2,664.3 L845.3,663.3 L850.4,665.4 L851.4,668.4 L849.4,670.5 L845.3,669.5 L842.7,666.9 L842.2,664.3 M854.5,673.6 L856.5,670.5 L859.6,669.5 L861.7,671.5 L860.6,675.6 L857.6,678.2 L855.0,677.7 L854.5,673.6 M882.2,668.4 L884.2,666.4 L889.3,666.4 L892.4,669.5 L891.4,671.5 L886.3,672.0 L883.2,671.0 L882.2,668.4 M933.4,681.8 L935.5,677.7 L937.5,675.6 L938.6,676.7 M863.7,682.8 L864.7,681.3 L866.3,681.8 L866.8,683.3 M835.0,640.8 L836.0,643.8 L836.0,649.0 L835.0,652.0 M262.0,633.6 L264.4,631.9 L270.8,628.7 L279.4,625.4 L283.7,628.7 L283.7,635.1 L282.6,640.5 L285.9,642.6 L290.2,636.2 L294.5,628.7 L296.6,624.4 L305.2,623.3 L307.3,629.7 L311.6,630.8 L320.2,629.7 L321.3,627.6 L318.1,626.5 L313.8,628.7 L310.6,635.1 L309.5,639.4 L313.8,641.6 L319.2,640.5 L323.5,643.7 L325.6,648.0 L322.4,652.3 L318.1,658.8 L319.2,663.0 L326.7,665.2 L334.2,663.0 L340.0,660.9 M262.0,632.5 L266.5,629.7 L273.0,626.5 L279.4,622.2 L280.5,616.9 L283.7,614.7 L290.2,613.1 L296.6,607.2 L303.0,605.0 L307.3,605.0 L309.5,611.5 L312.7,620.1 L314.9,622.2 L318.1,615.8 L320.2,609.3 L322.4,605.0 M262.0,648.2 L265.4,644.8 L270.8,641.6 L274.0,642.6 L275.1,646.9 L277.3,651.2 L281.6,652.3 L290.2,651.2 L295.5,650.2 L296.6,653.4 L293.4,657.7 L291.2,663.0 L290.2,668.4 L293.4,672.7 L300.9,673.8 L308.4,672.7 L315.9,674.9 L321.3,678.1 L324.5,681.3 M262.0,673.8 L262.2,673.8 L268.7,671.6 L274.0,671.6 L275.1,675.9 L273.0,679.2 L271.9,682.4 M285.9,619.0 L288.0,616.9 L291.2,616.9 L291.8,619.0 L289.1,620.6 L286.4,620.1 L285.9,619.0 M289.1,627.6 L290.7,627.1 L291.8,629.2 L290.2,630.8 L289.1,629.7 L289.1,627.6 M340.0,614.7 L335.3,617.9 L331.0,622.2 L327.8,627.6 L325.6,633.0 L326.7,637.3 L332.1,639.4 L336.3,640.5 L340.0,639.4 M340.0,645.9 L335.3,648.0 L331.0,651.2 L326.7,654.5 L322.4,658.8 L322.4,662.0 L326.7,663.0 L333.1,660.9 L340.0,656.6 M288.0,678.1 L290.2,675.9 L292.3,677.0 L291.2,679.2 L288.5,679.7 L288.0,678.1 M345.1,590.0 L346.2,593.4 L349.6,596.7 L355.2,596.7 L360.8,594.5 L362.5,597.9 L360.8,601.2 L357.5,605.7 L353.0,610.2 L347.4,614.7 L345.1,618.1 L345.1,622.6 L341.7,625.9 L337.2,629.3 L335.0,630.4 M349.6,590.0 L351.8,593.4 L355.2,593.9 L355.8,590.0 M335.0,632.7 L339.5,632.1 L342.9,633.8 L343.4,638.3 L341.7,643.9 L338.4,647.3 L335.0,648.4 M335.0,640.5 L337.2,641.7 L336.1,643.9 L335.0,644.5 M335.0,651.8 L341.7,651.8 L348.5,650.6 L354.1,647.3 L355.2,642.8 L357.5,639.4 L362.0,638.9 L364.2,640.5 L365.3,642.8 L367.6,643.9 L370.9,642.8 L374.3,640.5 L376.6,637.2 L379.9,632.7 L384.4,628.2 L390.0,624.8 L393.4,622.6 L395.6,619.2 L397.9,614.7 L401.3,610.2 L404.6,611.3 L409.1,614.7 L415.9,617.0 L422.6,615.8 L429.3,614.1 L433.8,614.7 L433.8,618.1 L431.6,622.6 L429.3,627.1 L424.8,634.9 L423.7,639.4 L426.0,641.1 L431.6,641.1 L432.7,637.2 L433.8,630.4 L436.1,625.9 L439.4,624.8 M335.0,656.3 L341.7,655.1 L348.5,654.0 L355.2,650.6 L359.7,647.3 L364.2,649.5 L367.6,649.5 L372.1,647.3 L376.6,645.0 L379.9,639.4 L383.3,634.9 L387.8,631.6 L392.3,629.3 L396.8,625.9 L400.1,622.6 L402.4,619.2 L406.9,620.3 L413.6,622.6 L420.4,623.1 L424.8,622.6 L426.0,625.9 L422.6,630.4 L419.2,634.9 L415.9,639.4 L412.5,642.8 L409.1,647.3 L408.0,652.9 L410.2,657.4 L414.7,658.5 L420.4,657.4 L426.0,656.3 L430.5,654.0 L433.8,651.8 L438.3,649.5 M335.0,664.1 L341.7,661.9 L347.4,661.9 L349.6,666.4 L357.5,668.6 L358.6,673.1 L357.5,676.5 L359.7,679.8 L365.3,682.1 M401.3,637.2 L404.6,634.9 L408.0,636.0 L408.6,638.3 L405.8,640.5 L402.4,640.5 L401.3,637.2 M415.9,648.4 L418.1,646.2 L421.5,645.6 L422.0,648.4 L419.2,650.1 L416.4,650.1 L415.9,648.4 M401.3,673.1 L403.5,670.9 L406.9,671.4 L408.0,673.7 L405.8,675.9 L402.4,675.9 L401.3,673.1 M409.1,595.6 L413.6,592.2 L415.9,590.0 M409.1,595.6 L409.1,601.2 L410.2,604.6 L415.9,608.0 L420.4,610.2 L424.8,609.7 L429.3,606.8 L431.6,601.2 L433.8,595.6 L433.8,590.0 M450.0,603.5 L446.2,604.6 L443.9,606.8 L442.8,611.3 L445.1,614.7 M440.6,631.6 L442.8,633.8 L445.1,637.2 M431.6,670.9 L436.1,668.6 L442.8,666.4 L450.0,665.2 M433.8,682.1 L439.4,679.8 L442.8,678.7 L447.3,679.8 L450.0,682.1 M436.1,658.5 L438.3,661.9 L442.8,659.6 L447.3,657.4 M467.7,225.0 L465.6,228.1 L465.6,231.2 L469.7,233.2 L473.8,235.3 L477.9,238.3 L479.0,241.4 L474.9,243.5 L471.8,245.5 L470.8,248.6 M486.1,225.0 L488.2,227.1 L493.3,231.2 L497.4,234.2 L501.5,236.3 L504.6,235.3 M460.5,256.8 L458.5,260.9 L457.4,266.0 L455.4,271.1 L454.4,276.3 L452.3,280.4 M491.3,245.5 L495.4,244.5 L499.5,245.5 L503.6,247.6 L509.7,248.6 L513.8,247.6 L522.0,246.5 L530.2,246.5 L537.4,247.6 L545.0,247.6 M503.6,254.7 L511.8,252.7 L517.9,251.7 L522.0,252.2 L528.2,252.7 L532.3,253.7 L538.4,252.7 L545.0,251.7 M528.2,235.3 L532.3,237.3 L538.4,240.4 L545.0,241.4 M488.2,269.1 L493.3,270.1 L498.4,270.1 L503.6,268.1 L509.7,265.0 L513.8,264.0 L515.9,266.0 L513.8,268.1 L509.7,270.1 L505.6,272.2 L501.5,274.2 L497.4,276.3 L493.3,278.3 L490.2,280.4 L487.2,281.4 M497.4,278.3 L501.5,276.3 L507.7,274.2 L513.8,272.2 L519.0,270.1 L524.1,268.1 L528.2,269.1 L532.3,272.2 L537.4,274.2 L542.5,273.2 L545.0,272.2 M524.1,276.3 L526.1,275.2 L529.2,277.3 L530.2,281.4 L528.2,284.5 L527.2,286.5 L531.3,287.6 L536.4,285.5 L540.5,284.5 L545.0,284.5 M497.4,286.5 L501.5,285.5 L505.6,283.4 L509.7,282.4 L513.8,282.4 L517.9,283.4 M545.0,260.9 L541.5,261.9 L540.5,266.0 L541.5,268.1 L545.0,269.1 M453.3,281.4 L457.4,282.4 L458.5,286.5 L457.4,291.7 L458.5,296.8 L460.5,300.0 M540.0,228.1 L550.3,228.6 L556.4,229.1 M582.0,230.1 L591.3,229.1 L601.5,228.1 L611.8,227.6 L622.0,228.1 L628.2,227.1 L645.0,226.0 M540.0,231.2 L548.2,232.2 L556.4,234.2 L565.6,235.3 L575.9,235.3 L583.1,236.3 L591.3,236.3 L599.5,235.8 L606.7,235.3 L613.8,235.3 L622.0,236.3 L630.2,237.3 L638.4,237.3 L645.0,236.3 M540.0,240.4 L544.1,242.4 L548.2,243.5 L546.2,245.5 L542.1,246.5 L540.0,247.0 M540.0,252.2 L546.2,251.1 L554.4,250.1 L563.6,249.6 L565.6,246.5 L564.6,243.5 M576.9,240.4 L581.0,241.4 L585.1,243.5 L588.2,245.0 L593.3,243.5 L598.4,242.4 M541.0,264.0 L545.1,261.4 L552.3,262.9 L560.5,264.0 L570.8,265.5 L579.0,266.5 L582.0,269.1 L585.1,272.2 L591.3,273.2 L597.4,272.2 L601.5,269.1 L605.6,266.0 L611.8,262.9 L617.9,261.4 L622.0,261.9 L623.1,264.5 L620.0,267.0 L613.8,270.1 L607.7,273.2 L605.6,275.2 L604.6,278.3 L599.5,278.3 L595.4,279.3 L592.3,281.4 M540.0,269.1 L542.1,271.1 L545.1,273.2 L546.2,275.2 L543.1,276.3 L540.0,276.3 M540.0,283.4 L542.1,285.5 L542.1,288.6 L544.1,291.7 L548.2,294.7 L553.3,296.8 L558.5,296.8 L563.6,294.7 L568.7,295.8 M550.3,289.6 L553.3,286.5 L558.5,283.4 L562.6,281.4 L565.6,280.9 M550.3,289.6 L551.3,291.7 L555.4,292.7 L560.5,290.6 L565.6,287.6 L570.8,288.6 L575.9,291.7 L581.0,294.7 L583.1,297.8 M592.3,281.4 L593.3,284.5 L597.4,286.5 L603.6,286.5 L607.7,285.5 M632.8,282.4 L638.4,281.9 L645.0,281.9 M582.0,290.6 L584.1,294.7 L589.2,296.8 L595.4,295.8 L600.5,293.7 L604.6,292.7 L607.7,293.2 L605.6,294.7 L601.5,296.8 L599.5,300.0 M645.0,248.6 L637.4,249.6 L632.3,251.7 L630.2,255.8 L632.3,258.8 L637.4,260.9 L645.0,260.4 M628.2,300.0 L632.3,296.8 L638.4,294.7 L642.5,296.8 L643.6,300.0 M654.4,225.0 L656.9,229.1 L656.9,232.2 L652.3,235.3 L648.7,237.8 M640.0,236.3 L645.1,235.8 L649.2,237.3 L653.3,240.4 L656.4,244.0 L662.6,240.4 L668.7,237.3 L675.9,235.3 L683.1,233.2 L691.3,231.2 L699.5,229.1 L703.6,226.5 L711.8,227.1 L720.0,226.0 L725.1,225.0 M653.3,246.5 L656.4,249.6 L662.6,251.7 L668.7,254.2 L673.8,257.3 L681.0,258.3 L687.2,256.8 L695.4,254.7 L704.6,255.3 L709.7,251.7 L715.9,249.6 L722.0,246.5 L728.2,242.4 L734.3,238.3 L740.5,235.3 L745.0,232.2 M640.0,260.9 L646.2,259.9 L652.3,257.8 L658.5,256.3 L663.6,257.8 L668.7,261.9 L672.8,266.0 L675.9,268.1 L683.1,267.0 L690.2,266.0 L694.3,267.0 L695.4,270.1 L692.3,274.2 L688.2,278.3 L686.1,282.4 L685.1,285.5 L683.1,288.6 L680.0,292.7 L679.0,295.8 L683.1,300.0 M640.0,283.4 L646.2,280.4 L651.3,278.8 L655.4,281.4 L660.5,284.5 L664.6,286.5 L667.7,287.0 L666.7,289.6 L661.5,289.1 L654.4,290.1 L658.5,291.7 L663.6,294.7 L668.7,300.0 M703.6,280.4 L706.7,277.3 L711.8,274.2 L715.9,273.7 L716.4,277.3 L712.8,280.4 L707.7,281.4 L703.6,280.4 M640.0,295.8 L642.1,294.7 L641.0,297.8 L640.0,298.8 M735.4,300.0 L740.5,296.8 L745.0,294.7 M546.2,295.0 L550.3,296.5 L555.4,297.1 L560.5,295.0 M565.6,295.0 L569.7,298.1 L570.8,302.2 L569.7,306.3 L573.8,308.3 L577.9,310.4 L580.0,314.5 L581.0,319.6 L581.0,322.7 L576.9,323.7 L570.8,323.7 L566.7,325.8 L563.6,328.8 L561.5,331.9 L559.5,335.0 L559.0,335.2 M579.0,295.0 L583.1,300.1 L587.2,305.3 L590.2,309.4 L591.3,312.4 L588.2,315.5 L587.2,318.6 L589.2,321.7 L589.2,325.8 L587.2,329.9 L584.1,334.0 L581.0,338.1 L579.0,342.2 L574.9,342.2 L569.7,340.1 L564.6,341.1 L559.5,343.2 L559.0,343.3 M559.0,359.2 L565.6,358.6 L571.8,358.6 L575.9,360.6 L577.9,363.7 L581.0,365.8 L586.1,367.8 L590.2,368.8 M586.1,295.0 L589.2,297.1 L593.3,296.0 L595.4,295.0 M601.5,295.0 L600.5,299.1 L601.5,303.2 L604.6,304.7 L611.8,303.2 L619.0,302.2 L626.1,301.2 L632.3,299.1 L636.4,297.1 L638.4,295.0 M642.5,295.0 L640.5,300.1 L639.5,305.3 L641.5,309.4 L640.5,313.5 L643.6,314.5 L645.0,314.5 M540.0,310.4 L543.1,312.4 L543.1,316.5 L541.0,319.6 L540.0,320.6 M640.0,314.5 L645.1,314.0 L651.3,315.5 L656.4,311.4 L662.6,307.3 L666.7,303.2 L668.2,299.1 L664.6,296.0 L663.6,295.0 M679.0,295.0 L682.0,298.1 L683.1,300.1 L681.0,303.2 L679.0,306.3 L676.9,308.3 L670.8,310.4 L664.6,313.5 L658.5,316.5 L654.4,319.1 L655.4,323.7 L656.4,328.8 L657.4,331.9 M640.0,305.3 L642.1,307.3 L642.1,310.4 L640.0,311.4 M660.5,332.9 L664.6,335.0 L668.7,335.5 L673.8,334.5 L677.9,331.9 L681.0,328.8 L685.1,326.8 L690.2,326.3 L691.3,327.8 L688.2,329.9 L683.1,331.4 L679.0,332.9 L675.9,335.0 L670.8,337.0 L664.6,340.1 L658.5,343.2 L654.4,346.3 L651.3,350.4 L648.2,354.5 L645.1,357.6 L644.1,360.6 L640.0,361.7 M649.2,370.0 L653.3,366.8 L657.4,362.7 L659.5,358.6 L663.6,355.5 L668.7,353.4 L673.8,350.9 L679.0,347.8 L683.1,347.3 L689.2,348.3 L695.4,348.3 L699.5,349.9 L705.6,349.9 L711.8,348.8 L714.9,346.3 L715.9,342.2 L717.9,339.1 L724.1,336.0 L730.2,334.0 L736.4,331.9 L740.5,328.8 L741.5,324.7 L741.5,321.7 L743.6,318.6 L745.0,317.6 M723.1,307.3 L725.1,305.3 L729.2,304.2 L734.3,301.2 L738.4,297.1 L740.5,295.0 M723.1,307.3 L727.2,306.3 L732.3,305.3 L738.4,305.3 L742.5,303.7 L745.0,301.2 M701.5,301.2 L702.6,304.2 L704.6,305.3 L705.6,303.2 M573.7,476.8 L578.6,476.3 L579.5,478.8 L579.0,483.7 L574.6,484.6 L572.7,482.7 L573.7,476.8 M560.0,477.8 L563.9,478.3 L564.9,479.8 L562.0,480.7 L560.0,480.3 M566.8,472.0 L570.7,471.0 L573.7,470.0 M588.3,473.9 L592.2,472.0 L599.1,471.0 L601.0,470.0 M588.3,473.9 L592.2,475.9 L597.1,474.9 L601.0,472.9 M577.6,503.2 L578.6,500.3 L584.4,496.4 L588.3,499.3 L588.3,504.2 L586.4,506.1 L581.5,507.1 L578.6,506.1 L577.6,503.2 M560.0,524.7 L562.9,522.7 L565.9,520.8 L563.9,516.9 L562.0,514.9 L563.9,512.0 L568.8,511.0 L574.6,510.0 L581.5,509.1 L587.3,509.1 L592.2,505.2 L595.2,504.2 L599.1,504.2 L603.0,501.2 L605.9,500.3 L608.8,502.2 L611.8,504.2 L614.7,504.2 L618.6,503.2 L622.5,501.2 L623.5,498.3 L621.5,494.4 L622.5,489.5 L620.5,485.6 L619.6,482.7 L623.5,482.7 L626.4,483.7 L628.4,485.6 M606.9,490.5 L608.8,489.5 L611.8,492.5 L614.7,496.4 L614.7,498.3 L612.7,498.3 L609.8,495.4 L606.9,492.5 L606.9,490.5 M626.4,483.7 L627.4,487.6 L628.4,491.5 L632.3,493.4 L634.2,496.4 L632.3,497.3 L630.3,498.3 M610.8,511.0 L612.7,509.1 L616.6,509.1 L618.6,510.0 L620.5,511.0 L626.4,511.0 L628.4,513.0 L629.3,515.9 M611.8,512.0 L612.7,514.9 L616.6,516.9 L620.5,516.9 L623.5,518.8 L625.4,522.7 L628.4,526.6 L632.3,529.6 L638.1,530.5 L642.0,532.5 L643.0,536.4 L640.1,537.4 L636.2,537.4 L634.2,540.3 L634.2,545.0 M632.3,503.2 L636.2,502.2 L640.1,504.2 L643.0,507.1 L647.9,509.1 L652.8,510.0 L657.7,511.0 L660.0,511.0 M632.3,503.2 L632.3,507.1 L634.2,511.0 M645.9,486.6 L649.8,489.5 L653.8,492.5 L655.7,496.4 L654.7,498.3 L651.8,497.3 M638.1,497.3 L642.0,496.4 L645.9,497.3 L646.9,500.3 L645.0,503.2 L642.0,501.2 L638.1,498.3 M628.4,470.0 L630.3,472.0 L638.1,472.9 L645.9,472.0 L649.8,470.0 M651.8,470.0 L652.8,472.9 L656.7,475.9 L660.0,476.8 M644.0,537.4 L645.9,539.3 L649.8,542.3 L651.8,545.0 M567.8,545.0 L569.8,540.3 L572.7,539.8 L573.7,542.3 L574.6,545.0 M560.0,549.8 L563.9,547.8 L567.8,543.9 L569.8,541.0 L573.7,542.0 L574.6,547.8 L575.6,552.7 L573.7,557.6 L572.7,563.4 L573.7,568.3 L576.6,570.3 L582.5,571.2 L587.3,573.2 L588.3,576.1 L592.2,575.2 L594.2,573.2 M560.0,554.6 L563.9,553.7 L565.9,555.6 L564.9,559.5 L562.0,562.5 L560.0,563.4 M560.0,566.4 L562.0,568.3 L564.9,572.2 L569.8,574.2 L574.6,577.1 L579.5,581.0 L585.4,583.9 L589.3,585.9 M560.0,587.9 L563.9,588.8 L567.8,587.9 L569.8,590.8 L570.7,596.6 L571.7,602.5 L573.7,606.4 L576.6,608.4 L581.5,608.4 L585.4,610.3 L589.3,615.0 M560.0,598.6 L562.0,600.5 L562.0,604.5 L560.0,608.4 M610.8,549.8 L611.8,546.8 L614.7,544.9 L618.6,543.9 L622.5,544.9 L623.5,547.8 L620.5,550.7 L618.6,553.7 L616.6,556.6 L613.7,556.6 L610.8,553.7 L610.8,549.8 M634.2,540.0 L634.2,545.9 L636.2,549.8 L640.1,553.7 L644.0,554.6 L647.9,552.7 L651.8,549.8 L653.8,547.8 L653.8,543.9 L651.8,542.0 L647.9,540.0 M644.0,543.9 L645.9,542.0 L649.8,542.9 L651.8,545.9 L649.8,547.8 L645.9,546.8 L644.0,543.9 M597.1,572.2 L603.0,573.2 L610.8,574.2 L614.7,576.1 L618.6,578.1 L622.5,580.0 L626.4,583.0 L630.3,586.9 L633.2,590.8 L635.2,595.7 L638.1,599.6 L642.0,602.5 L645.9,606.4 L648.9,610.3 L650.8,615.0 M660.0,559.5 L657.7,558.6 L653.8,559.5 L656.7,564.4 L660.0,565.4 M660.0,585.9 L655.7,587.9 L653.8,590.8 L652.8,595.7 L653.8,600.5 L655.7,604.5 L657.7,607.4 L660.0,608.4 M636.2,606.4 L638.1,605.4 L642.0,608.4 L644.0,612.3 L645.0,615.0 M624.5,593.7 L626.4,594.7 L627.4,596.6 L625.4,597.1 L624.5,595.7 M560.0,612.3 L564.9,614.2 L567.8,615.0 M451.4,320.0 L454.2,324.1 L459.6,326.8 L465.1,328.2 L472.0,326.8 L477.4,324.1 L481.5,321.4 L482.9,320.0 M420.0,354.2 L433.7,353.5 L441.9,352.8 L451.4,351.4 L461.0,350.1 L469.2,349.4 L477.4,350.1 M420.0,357.6 L433.7,356.9 L444.6,356.2 L455.5,354.9 L465.1,354.2 L474.7,354.9 L482.9,356.2 L491.1,359.6 L495.2,361.0 L502.0,358.3 L510.2,354.2 L518.4,351.4 L529.4,348.7 L540.3,347.3 L551.3,345.3 L560.0,344.6 M420.0,361.0 L433.7,361.0 L447.3,360.3 L458.3,359.0 L467.9,358.3 L477.4,359.6 L485.6,361.0 L491.1,363.8 L495.2,365.1 L502.0,362.4 L510.2,359.6 L518.4,356.9 L526.6,355.5 L533.5,358.3 L538.9,355.5 L545.8,352.8 L554.0,350.1 L560.0,348.7 M526.6,337.8 L537.6,339.1 L548.5,337.8 L560.0,336.4 M515.7,342.6 L526.6,342.6 L537.6,341.9 L548.5,340.5 L560.0,339.1 M541.7,320.0 L538.9,324.1 L534.8,328.2 L529.4,332.3 L523.9,335.0 L518.4,337.8 M520.2,350.8 L521.4,350.1 L522.5,351.4 L521.4,352.5 L520.2,351.7 L520.2,350.8 M420.0,372.0 L425.5,373.3 L428.2,377.4 L425.5,380.0 M447.3,380.0 L451.4,377.4 L455.5,374.7 L451.4,372.0 M665.9,620.0 L669.8,623.9 L672.7,627.8 L676.6,628.8 L681.5,629.8 L684.4,633.7 L688.3,638.6 L691.2,643.4 L693.2,647.3 L697.1,650.3 L702.0,653.2 L706.9,657.1 L710.8,660.0 L714.7,663.9 L717.6,668.8 L720.5,672.7 L723.5,676.6 L726.4,680.5 L728.4,683.5 M671.7,620.0 L673.7,622.9 L678.6,622.9 L682.5,624.9 L686.4,629.8 L689.3,633.7 L692.2,638.6 L695.2,641.5 L699.1,643.4 L701.0,647.3 L703.0,652.2 L706.9,655.2 L712.7,652.2 L716.6,654.2 L716.6,659.1 L718.6,663.0 L721.5,667.9 L724.5,672.7 L727.4,678.6 L730.3,683.5 M687.3,620.0 L689.3,623.9 L691.2,627.8 L694.2,629.8 L697.1,632.7 M691.2,620.0 L695.2,623.9 L699.1,627.8 L701.0,630.7 M660.0,652.2 L665.9,650.3 L669.8,649.3 L673.7,648.3 L676.6,649.3 L679.5,652.2 L681.5,656.1 L683.4,660.0 L686.4,663.0 L689.3,665.9 L692.2,669.8 L695.2,673.7 L699.1,676.6 L703.9,678.6 L708.8,680.5 L713.7,682.5 L716.6,683.5 M660.0,655.2 L665.9,654.2 L669.8,653.2 L673.7,652.2 L676.6,654.2 L678.6,658.1 L680.5,662.0 L683.4,664.9 L687.3,667.9 L690.3,671.8 L693.2,675.7 L698.1,678.6 L703.0,680.5 L707.9,682.5 L710.8,683.5 M660.0,658.1 L665.9,657.1 L671.7,657.1 L674.6,660.0 L675.6,663.9 L677.6,667.9 L681.5,670.8 L685.4,673.7 L689.3,677.6 L694.2,680.5 L699.1,682.5 L703.0,683.5 M670.7,659.1 L672.7,663.0 L672.7,666.9 L674.6,670.8 L678.6,674.7 L683.4,677.6 L688.3,680.5 L693.2,683.0 L695.2,683.5 M669.8,664.9 L670.7,668.8 L671.7,672.7 L674.6,675.7 L679.5,678.6 L683.4,681.5 L686.4,683.5 M667.8,668.8 L669.8,672.7 L671.7,676.6 L675.6,679.6 L679.5,682.5 L681.5,683.5 M683.4,647.3 L684.4,652.2 L688.3,657.1 L689.3,662.0 L691.2,665.9 L695.2,668.8 L700.0,672.7 L704.9,674.7 L708.8,675.7 L713.7,674.7 L716.6,677.6 L719.6,681.5 L722.5,683.5 M697.1,660.0 L701.0,660.0 L705.9,663.0 L708.8,666.9 L707.9,670.8 L705.9,670.8 L702.0,666.9 L699.1,663.0 L697.1,660.0 M687.3,639.5 L689.3,645.4 L689.3,652.2 L691.2,656.1 L695.2,659.1 L697.1,663.0 L699.1,666.9 L701.0,670.8 L703.0,674.7 L705.9,676.6 M704.9,620.0 L705.9,623.9 L707.9,626.8 L712.7,625.9 L715.7,626.8 L717.6,629.8 L716.6,633.7 L713.7,636.6 L710.8,638.6 L707.9,636.6 L704.9,633.7 M735.2,633.7 L741.1,633.7 L745.0,632.7 L746.9,630.7 L746.9,634.6 L745.0,637.6 L743.0,641.5 L742.0,646.4 L740.1,648.3 L737.1,647.3 L735.2,643.4 L735.2,637.6 L735.2,633.7 M730.3,683.5 L730.3,674.7 L732.3,670.8 L735.2,669.8 L737.1,672.7 L738.1,678.6 L740.1,682.5 L742.0,683.5 M739.1,666.9 L741.1,664.9 L745.0,665.9 L747.9,668.8 L750.8,671.8 L754.7,673.7 L757.7,674.7 L760.0,675.7 M740.1,666.9 L742.0,672.7 L743.0,678.6 L744.0,683.5 M751.8,639.5 L752.8,642.5 L753.8,645.4 L751.8,646.4 L750.8,643.4 L751.8,639.5 M760.0,623.9 L757.7,625.9 L758.6,629.8 L760.0,630.7 M660.0,623.9 L663.9,625.9 L667.8,629.8 L669.8,634.6 L670.7,639.5 L673.7,643.4 M660.0,634.6 L662.9,636.6 L663.9,640.5 L662.0,642.5 L660.0,643.4 M588.8,371.7 L590.8,377.6 L596.6,379.5 L602.5,377.6 L608.4,377.6 L616.2,381.5 L624.0,387.3 L629.8,393.2 L631.8,397.1 M627.9,367.8 L627.9,375.6 L631.8,383.4 L637.7,391.2 L645.5,399.1 L655.2,406.9 L665.0,414.7 L672.8,420.5 L676.7,426.4 L678.7,429.9 M647.4,360.0 L649.4,365.9 L647.4,371.7 L647.4,379.5 L651.3,385.4 L659.1,391.2 L667.0,397.1 L674.8,404.9 L680.6,410.8 L684.5,418.6 L685.5,429.9 M631.8,406.9 L635.7,405.9 L639.6,408.8 L637.7,416.6 L639.6,422.5 L637.7,426.4 L631.8,424.5 L629.8,420.5 L631.8,414.7 L633.8,410.8 M633.8,407.9 L641.6,405.9 L643.5,412.7 L645.5,422.5 L643.5,428.4 M614.2,379.5 L618.1,385.4 L620.1,389.3 L618.1,391.2 L615.2,387.3 M540.0,379.5 L545.9,378.6 L551.7,381.5 L555.6,387.3 L553.7,393.2 L549.8,399.1 L553.7,404.9 L559.5,406.9 L565.4,406.9 L571.2,408.8 L569.3,412.7 L565.4,416.6 L561.5,418.6 L557.6,422.5 L559.5,428.4 M559.5,377.6 L565.4,379.5 L567.3,385.4 L569.3,393.2 L573.2,399.1 L579.1,404.9 L583.0,410.8 L586.9,414.7 L590.8,416.6 L594.7,412.7 M569.3,375.6 L575.2,379.5 L579.1,387.3 L581.0,395.2 L583.0,403.0 M540.0,389.3 L543.9,395.2 L545.9,403.0 L540.0,408.8 M573.2,422.5 L579.1,424.5 L584.9,428.4 M604.5,401.0 L607.4,399.1 L609.3,402.0 L606.4,403.9 L604.5,401.0 M177.3,551.5 L179.3,557.3 L189.1,563.2 L196.9,569.1 L198.8,573.0 L189.1,576.9 L179.3,580.8 L175.4,586.6 L173.4,594.5 L171.5,604.2 L170.5,608.1 L173.4,610.1 L179.3,608.1 L183.2,612.0 L181.2,619.8 L185.2,623.8 L194.9,625.7 L206.6,629.6 L212.5,635.5 L210.5,643.3 L214.5,651.1 L222.3,657.0 L232.0,662.8 L239.8,666.7 L251.6,670.6 L259.4,672.6 L262.0,673.0 M177.3,551.5 L185.2,549.5 L200.8,549.5 L201.0,549.5 M202.7,559.3 L203.2,559.0 M231.4,559.0 L232.0,559.3 L234.0,565.2 L235.9,571.0 L232.0,574.9 L218.4,576.9 L208.6,576.9 L204.7,573.0 L202.7,565.2 L202.7,559.3 M212.5,561.2 L220.3,559.3 L226.2,561.2 L222.3,565.2 L214.5,567.1 L212.5,564.2 L212.5,561.2 M230.1,563.2 L235.9,566.1 L243.8,567.1 L251.6,569.1 L259.4,572.0 L262.0,573.3 M193.9,580.8 L194.9,588.6 L198.8,596.4 L202.7,604.2 L208.6,610.1 L216.4,615.9 L224.2,619.8 L230.1,621.8 L235.9,623.8 L243.8,621.8 L249.6,615.9 L255.5,610.1 L259.4,604.2 L261.3,600.3 M200.8,586.6 L208.6,582.7 L220.3,580.8 L232.0,576.9 L243.8,573.9 L255.5,573.0 L262.0,574.3 M208.6,598.4 L204.7,592.5 L201.8,587.6 M230.1,602.3 L239.8,601.3 L251.6,600.3 L259.4,600.3 L261.3,604.2 L259.4,612.0 L257.4,619.8 L251.6,623.8 L243.8,625.7 L235.9,627.7 L232.0,631.6 L235.9,639.4 L241.8,642.3 L251.6,641.3 L261.3,635.5 L262.0,635.2 M234.0,612.0 L237.9,610.1 L241.8,612.0 L240.8,615.0 L235.9,615.9 L234.0,613.0 L234.0,612.0 M153.9,639.4 L161.7,637.4 L165.6,643.3 L171.5,647.2 L181.2,645.2 L185.2,651.1 L189.1,658.9 L196.9,664.8 L204.7,670.6 L208.6,678.4 L209.9,683.0 M224.2,629.6 L228.1,637.4 L232.0,647.2 L239.8,655.0 L249.6,658.9 L259.4,657.0 L262.0,655.4 M193.0,649.1 L194.5,648.2 L195.7,649.5 L194.1,651.1 L193.0,649.1 M153.9,535.9 L159.8,543.7 L157.8,553.4 L153.9,555.4 M153.9,564.2 L159.8,567.1 L161.7,569.1 L157.8,572.0 L153.9,573.0 M166.3,531.0 L169.5,535.9 L177.3,538.8 L189.1,537.8 L196.9,533.9 L199.8,531.0 M223.0,496.0 L224.7,500.4 L227.9,504.7 L231.2,507.9 L234.4,511.1 L238.7,513.3 L240.3,514.9 L237.6,517.6 L234.4,520.8 L229.0,522.4 L223.6,521.9 L219.3,524.0 L214.0,522.9 L210.7,524.0 L206.4,527.2 L202.1,529.4 M309.0,504.8 L301.0,505.7 L294.5,506.8 L290.2,510.0 L285.9,512.2 L279.5,514.3 L273.0,515.4 L266.6,516.5 L262.3,518.6 L256.9,520.2 L249.4,521.3 L243.0,522.4 L238.7,525.1 L237.1,528.3 L237.6,532.6 L236.5,536.9 L233.3,541.2 L231.2,546.6 L229.0,549.8 L223.6,550.9 L218.3,549.8 L212.9,548.7 L206.4,548.7 L202.1,549.8 L201.0,550.4 M287.0,520.2 L281.6,520.8 L275.2,521.9 L268.8,522.9 L260.2,524.5 L251.6,525.6 L245.1,526.7 L242.4,528.3 L243.0,531.5 L247.3,533.7 L250.5,535.8 L252.6,540.1 L254.8,543.3 L255.9,547.6 L253.7,551.9 L249.4,555.2 L243.0,557.3 L236.5,557.3 L230.1,557.3 L223.6,556.2 L216.1,555.2 L208.6,556.2 L204.3,558.4 M287.0,526.2 L281.6,525.1 L275.2,526.2 L268.8,527.2 L262.3,527.2 L256.9,527.8 L253.7,528.3 L255.9,530.4 L258.0,532.6 L261.2,535.8 L266.6,536.9 L273.0,535.8 L279.5,535.8 L281.6,538.0 L282.7,541.2 L281.6,544.4 L277.3,545.5 L273.0,546.6 L268.8,547.6 L265.5,548.7 L263.4,551.9 L260.2,555.2 L255.9,558.4 L254.2,559.0 M262.8,531.5 L265.5,529.9 L268.2,531.5 L265.5,532.6 L262.8,531.5 M309.0,527.5 L305.3,528.3 L301.0,529.4 L294.5,530.4 L289.2,531.5 L287.0,533.7 L287.5,538.0 L290.2,541.2 L293.5,544.4 L295.6,547.6 L296.7,551.9 L297.8,556.2 L301.0,555.2 L304.2,554.1 L302.1,551.9 L299.9,550.9 M309.0,513.5 L306.3,511.1 L303.1,513.3 L301.0,517.6 L302.1,522.9 L305.3,526.2 L309.0,526.2 M269.1,559.0 L270.9,554.1 L275.2,550.9 L281.6,549.2 L285.9,548.7 L291.3,549.8 M215.9,559.0 L217.2,558.4 L221.5,558.4 L222.7,559.0 M309.0,505.3 L311.7,505.1 L318.5,506.2 L325.2,508.5 L329.7,510.7 L333.1,509.6 L333.6,506.2 L331.4,502.9 L333.1,499.5 L338.7,498.4 L345.4,499.5 L349.9,501.7 L352.2,505.1 L354.4,506.2 L356.7,505.1 L357.8,501.7 L358.3,496.0 M364.5,496.0 L364.5,498.4 L367.9,501.7 L372.4,505.1 L374.6,506.2 L379.1,507.4 L385.9,508.5 L392.6,509.6 L396.0,511.8 L399.3,510.7 L403.8,510.2 L407.2,511.8 L408.3,516.3 L407.8,520.8 L408.3,525.3 L411.7,528.7 L416.2,530.9 L419.0,529.3 M309.0,510.5 L311.7,509.6 L317.4,510.2 L321.8,513.0 L327.5,517.5 L334.2,518.6 L340.9,518.6 L349.9,518.6 L354.4,520.3 L357.8,518.6 L360.0,517.5 L363.4,518.6 L367.9,518.6 L370.1,516.3 L370.1,511.8 L372.4,507.4 L373.5,505.7 M309.0,515.5 L309.5,515.2 L314.0,513.5 L316.2,514.1 L317.4,516.3 L320.7,519.7 L324.1,522.0 L327.5,523.1 L332.0,522.0 L338.7,521.4 L345.4,521.4 L349.9,522.5 L352.2,524.2 L353.3,527.0 L356.7,525.3 L360.0,523.6 L365.6,524.2 L370.1,523.1 L374.6,519.7 L379.1,516.3 L383.6,514.7 L388.1,514.1 L389.2,517.5 L387.0,522.0 L385.9,525.3 L390.4,524.2 L397.1,520.8 L401.6,518.0 L403.8,516.9 L404.4,523.1 L402.7,527.6 L400.5,529.8 L401.6,532.1 M309.0,531.9 L309.5,532.1 L314.0,528.7 L317.4,527.0 L323.0,528.7 L327.5,528.7 L330.8,526.4 L335.3,524.8 L339.8,525.3 L342.6,527.6 L340.9,530.9 L338.7,533.2 L337.6,536.0 L340.9,537.7 L346.6,536.6 L351.0,534.3 L356.7,530.9 L361.2,527.6 L367.9,525.3 L372.4,523.1 L376.9,520.8 L380.2,519.7 L381.4,522.0 L380.2,525.3 L381.4,528.7 L383.6,527.6 L387.0,525.3 L391.5,523.1 L396.0,520.8 L398.2,522.0 L399.3,524.2 L400.5,527.6 M401.6,532.1 L400.5,536.6 L398.2,539.9 L396.0,542.2 L394.8,544.4 L398.2,544.4 L402.7,542.2 L406.1,539.9 L411.7,538.8 L417.3,538.8 L419.0,538.4 M394.8,544.4 L393.7,542.2 L390.4,539.9 L385.9,539.9 L382.5,541.0 L379.1,543.3 L376.9,545.5 L378.0,548.9 L383.6,551.2 L390.4,551.2 L397.1,548.9 L402.7,545.5 L408.3,542.2 L412.8,541.0 L419.0,541.0 M396.1,558.0 L398.2,554.5 L402.7,552.3 L408.3,548.9 L413.9,545.5 L419.0,543.7"/></g>
<g id="border" fill="none" stroke="#000" stroke-width="2" stroke-linejoin="round"><path d="M197.9,142.9 L201.8,151.7 L223.2,183.0 L237.9,182.0 L261.3,180.6 L282.8,183.4 L300.4,185.9 L312.1,182.0 L318.9,181.0 L324.8,188.8 L333.6,198.6 L338.5,210.3 L339.5,220.1 L347.3,218.1 L350.0,218.1 M152.9,225.9 L156.8,229.8 L153.9,233.8 L155.9,241.6 L160.7,247.4 L156.8,251.3 L155.9,257.2 L153.9,261.1 L161.7,267.0 L171.5,272.8 L183.2,274.8 L196.9,274.8 L206.6,280.0 M342.4,259.5 L343.4,243.5 L346.9,242.0 L350.0,242.5 M342.4,259.5 L350.0,261.5 M180.3,275.0 L185.2,277.0 L189.1,278.9 L192.0,277.9 L193.9,275.0 M195.9,274.0 L202.7,277.9 L208.6,283.8 L210.5,290.6 L212.5,300.4 L216.4,310.2 L219.3,314.1 L220.3,321.9 L221.3,331.6 L224.2,335.5 L232.0,343.4 L239.8,351.2 L249.6,359.0 L257.4,368.8 L265.2,375.6 L273.0,381.4 L277.9,380.5 L282.8,386.3 L288.7,392.2 L298.4,397.1 L306.2,403.9 L316.0,411.7 L319.9,415.0 M310.2,410.0 L316.0,412.9 L321.9,415.9 L329.7,417.8 L337.5,421.7 L343.4,424.6 L350.0,426.6 M152.9,466.6 L161.7,467.0 L162.7,470.5 L161.7,478.4 L160.7,486.2 L158.8,492.0 L159.8,499.8 L160.7,507.7 L157.8,515.5 L155.9,521.3 L153.9,525.2 L152.9,527.2 M161.7,510.6 L169.5,517.4 L175.4,520.4 L185.2,521.3 L191.0,525.2 L192.7,531.0 M271.0,496.0 L273.0,495.0 L277.9,490.1 L278.9,482.3 L282.8,474.5 L286.7,468.6 L287.7,460.8 L294.5,456.9 L304.3,456.5 L312.1,456.5 L316.0,452.0 L318.0,446.1 L320.9,444.8 L323.8,447.1 L329.7,450.0 L335.5,453.9 L341.4,455.3 L345.3,454.9 L350.0,455.9 M345.3,451.0 L346.3,443.2 L348.2,433.4 L350.0,429.5 M345.0,218.1 L347.9,218.1 L347.9,242.5 L345.0,242.5 M345.0,259.1 L358.7,263.0 L359.6,280.0 M358.7,275.0 L359.5,283.8 L358.7,290.6 L367.5,292.1 L382.1,294.0 L399.7,295.5 L417.3,300.4 L422.6,306.2 L429.0,299.4 L435.8,291.6 L441.0,286.4 M445.0,315.0 L443.6,316.0 L442.8,321.0 M421.0,339.5 L420.2,339.9 L421.0,340.3 M440.0,287.2 L441.0,286.8 M494.3,299.0 L494.7,299.4 L497.2,299.0 M497.9,299.0 L502.5,300.4 L505.4,301.4 L508.4,300.4 L511.3,301.4 L512.1,299.0 M529.2,299.0 L529.8,299.4 L533.8,299.4 L535.7,302.3 L536.7,306.2 L540.0,306.2 M444.1,321.0 L444.9,316.0 L447.8,314.1 L450.7,315.0 L453.7,318.9 L455.6,320.9 L459.5,318.9 L465.4,317.0 L469.3,315.0 L473.2,312.1 L477.1,308.2 L479.1,305.3 L480.0,304.3 L482.0,306.2 L485.9,311.1 L487.9,315.0 L490.8,318.0 L487.9,320.9 L487.7,321.0 M421.0,354.2 L420.7,356.7 L420.2,361.6 L417.3,364.5 L415.3,366.0 L409.5,365.5 L403.6,364.5 L397.7,363.1 L393.8,362.1 L390.9,361.6 L388.0,362.6 L384.1,364.5 L382.1,366.5 L380.2,369.4 L378.2,373.3 L377.7,376.2 L380.2,378.2 L384.1,380.2 L387.0,382.1 L388.0,386.0 L388.9,388.0 L394.8,388.0 L401.6,388.9 L403.6,391.9 L403.6,394.8 L401.2,396.8 L399.7,399.7 L399.7,405.5 L400.2,410.4 L401.6,415.0 M524.4,379.0 L525.0,379.2 L525.2,379.0 M533.6,379.0 L534.7,380.2 L537.7,381.1 L540.0,382.1 M345.0,425.6 L348.9,426.6 L350.9,429.5 L348.9,432.5 L347.0,435.4 L346.0,439.3 L346.5,444.2 L346.0,449.1 L347.0,453.0 L349.9,454.9 L354.8,454.9 L360.6,454.4 L363.6,455.9 L365.5,458.8 L368.4,462.7 L372.3,461.8 L377.2,460.3 L380.2,462.7 L383.1,462.2 L387.0,463.2 L386.0,466.6 L388.9,469.6 L391.9,472.5 L393.8,475.4 L397.7,472.5 L402.6,470.5 L405.5,468.6 L410.4,466.6 L415.3,464.7 L419.2,461.8 L422.1,460.8 L423.1,459.8 L426.1,460.8 L428.0,462.7 L430.9,465.7 L433.9,468.6 L436.8,469.6 L439.7,468.6 L442.7,465.7 L441.7,461.8 L440.7,456.9 L442.7,453.9 L445.0,452.0 M400.7,410.0 L401.6,412.9 L404.6,415.9 L407.5,417.8 L409.0,420.7 L408.5,425.6 L407.5,428.6 L405.5,431.5 L401.6,433.4 L399.7,435.4 L397.7,439.3 L393.8,443.2 L390.9,447.1 L388.9,451.0 L388.0,453.9 L388.5,458.8 L387.5,463.2 M440.0,454.9 L442.0,453.0 L445.9,450.0 L451.7,449.6 L458.6,449.1 L461.5,451.0 L466.4,452.0 L470.3,449.1 L471.2,445.2 L469.3,440.3 L468.3,436.4 L470.3,434.4 L474.2,431.5 L478.1,427.6 L481.0,421.7 L483.9,416.8 L487.9,414.9 L494.7,413.9 L498.6,416.8 L502.5,419.8 L506.4,422.7 L507.4,425.6 L505.4,429.5 L504.5,433.4 L505.4,437.3 L508.4,438.3 L512.3,436.4 L515.2,437.3 L515.2,442.2 L513.2,446.1 L512.3,451.0 L512.3,456.9 L511.3,462.7 L510.3,468.6 L509.8,474.5 L510.3,480.0 M440.0,454.9 L440.0,460.8 L442.0,464.7 L440.0,467.6 M511.3,480.0 L514.2,484.9 L516.2,488.8 L520.1,489.8 L524.0,487.8 L527.9,485.9 L532.8,482.9 L537.7,481.0 L540.0,480.0 M540.0,482.0 L535.7,483.9 L529.8,487.8 L524.0,491.7 L518.1,496.6 L515.2,499.5 L512.3,504.4 L508.4,508.3 L504.5,511.2 L501.5,515.2 L500.5,516.1 L504.5,520.0 L508.4,523.9 L511.3,528.8 L513.2,533.7 L515.2,538.6 L515.7,543.5 L514.2,548.4 L513.7,550.0 M514.9,545.0 L515.9,550.9 L513.0,554.8 L511.0,560.6 L505.2,564.5 L499.3,572.3 L495.4,578.2 L493.4,580.2 L495.4,586.0 L497.3,591.9 L495.4,597.7 L489.5,601.6 L479.8,602.6 L470.0,601.6 L460.2,600.7 L455.4,602.6 L455.4,607.5 L460.2,613.4 L464.1,617.3 L466.1,623.1 L468.0,629.0 L464.1,632.9 L458.3,635.8 L450.5,638.8 L448.0,639.4 M430.0,683.0 L430.0,685.0 M576.7,226.0 L577.1,224.0 L579.1,220.1 L584.9,217.1 L590.8,213.2 L592.7,214.2 L598.6,211.3 L604.5,214.2 L612.3,218.1 L620.1,222.0 L625.9,225.9 L626.1,226.0 M646.6,226.0 L647.4,224.0 L655.2,224.0 L667.0,224.0 L676.7,221.1 L682.6,219.1 L688.4,222.0 L696.2,222.0 L706.0,223.0 L715.8,223.0 L725.5,222.0 L735.3,224.0 L740.0,224.0 M540.0,304.3 L541.0,304.8 M590.9,370.0 L591.1,369.0 M618.4,410.0 L624.0,415.0 M618.1,410.0 L622.0,412.0 L623.0,415.9 L622.0,419.8 L622.0,424.6 L623.0,429.5 L625.0,432.5 L625.9,436.4 L626.9,440.3 L626.4,445.2 L626.4,449.1 L628.9,452.0 L632.8,453.9 L634.7,456.9 L633.8,459.8 L631.8,461.8 L628.9,463.7 L625.9,464.7 L624.0,464.7 L622.0,462.7 L620.1,460.8 L617.1,458.8 L614.2,457.9 L610.3,458.3 L606.4,457.9 L603.5,458.8 L601.5,460.8 L596.6,462.2 L592.7,463.2 L588.8,463.7 L584.9,464.2 L583.9,462.7 L587.9,462.2 L588.3,457.9 L584.9,457.4 L579.1,456.9 L574.2,456.4 L570.3,457.9 L567.3,459.8 L563.4,462.7 L559.5,464.7 L555.6,465.7 L552.7,468.6 L549.8,472.5 L545.9,474.5 L540.0,475.4 M624.0,464.7 L618.1,466.6 L612.3,468.6 L609.8,469.6 L611.0,471.0 M540.0,483.9 L549.8,482.4 L557.6,482.0 L561.0,481.7 M659.0,487.3 L662.5,490.7 L664.4,495.6 L664.9,501.5 L665.4,505.4 L664.4,508.3 L663.4,512.2 L665.4,515.2 L668.3,516.1 L670.3,519.1 L671.2,522.0 L674.2,523.0 L679.1,521.0 L683.9,520.0 L684.9,523.0 L688.8,524.9 L693.7,526.9 L696.6,528.8 L698.6,531.8 L703.5,533.2 L708.4,534.7 L714.2,536.2 L720.1,536.6 L725.9,535.7 L729.8,534.2 L733.8,531.3 L737.7,531.8 L740.0,530.8 M696.6,528.8 L698.6,534.7 L699.6,540.5 L700.5,546.4 L701.0,550.0 M737.7,533.7 L736.7,538.6 L735.7,543.5 L737.7,550.0 M597.4,614.0 L596.6,615.0 M659.0,577.3 L659.5,577.2 L667.3,574.3 L673.2,572.3 L677.1,570.4 L681.0,567.9 L686.9,567.5 L691.8,566.5 L693.2,559.6 L698.6,557.7 L703.5,556.2 L702.5,550.9 L701.5,545.0 M597.6,614.0 L597.6,618.8 L600.5,619.8 L603.5,621.7 L604.5,625.6 L603.5,630.5 L600.5,633.4 L599.1,635.9 L602.5,639.3 L606.4,642.2 L611.3,644.2 L612.3,648.1 L614.2,649.1 L618.1,655.9 L621.1,660.8 L624.0,666.2 L629.8,666.6 L635.7,667.1 L637.7,666.2 L640.0,667.6 M640.0,667.6 L643.9,670.5 L647.8,673.5 L646.8,678.4 L643.9,682.3 L642.0,683.2 M647.8,673.5 L654.6,673.0 L661.0,672.7 M661.0,682.0 L660.5,683.2 M784.0,231.1 L787.1,234.1 L787.1,240.1 L789.1,246.1 L788.1,249.1 M735.0,223.1 L751.0,225.1 L755.0,228.1 L761.0,234.1 L769.0,238.1 L775.0,240.1 L783.0,244.1 L788.1,249.1 M788.1,249.1 L785.1,253.1 L777.0,256.1 L773.0,260.1 L763.0,265.1 L753.0,271.1 L744.0,277.1 M783.4,140.4 L783.4,150.0 L785.5,163.7 L798.5,191.0 L797.8,196.5 L800.5,200.6 L801.2,206.1 L797.8,207.4 L790.9,210.2 L790.3,214.3 L795.0,217.0 L788.2,219.7 L785.5,223.8 L784.1,230.0 M744.0,276.5 L747.0,275.0 M735.0,534.1 L741.0,528.1 L749.0,522.1 L757.0,516.0 L767.0,513.0 L775.0,511.0 L781.0,511.0 L785.1,515.0 L789.1,516.0 L793.1,522.1 L799.1,526.1 L805.1,528.1 L807.1,532.1 L811.1,528.1 L813.1,532.1 L813.1,540.1 L811.1,550.1 M737.1,545.0 L740.1,551.2 L743.2,557.3 L746.3,565.5 L749.4,570.6 L755.5,572.7 L761.7,574.7 L767.8,577.8 L771.9,580.9 L772.9,585.0 L769.9,588.1 L765.8,591.1 L764.7,595.2 L764.7,601.4 L765.8,608.6 L766.3,615.0 M810.9,545.0 L810.9,551.2 L808.8,557.3 L804.7,562.4 L801.7,565.5 L798.6,568.6 L797.6,571.7 L796.5,574.7 L792.4,575.8 L791.4,578.8 L791.4,582.9 L791.4,587.0 L789.3,590.1 L785.2,592.2 L780.1,593.2 L775.0,594.2 L770.9,595.2 L770.9,598.3 L772.9,603.4 L775.0,608.6 L776.0,611.7 L772.9,612.7 L771.9,615.0 M764.7,610.0 L767.8,614.1 L771.9,618.2 L776.0,623.3 L780.1,626.4 L784.2,629.5 L789.3,629.5 L790.4,633.6 L792.4,638.7 L795.5,643.8 L797.6,649.0 L796.5,653.1 L792.4,655.1 L788.3,656.1 L783.2,657.2 L779.1,660.2 L777.0,664.3 L772.9,662.3 L769.9,659.2 L768.8,654.1 L767.8,652.0 L764.7,653.1 L760.6,655.1 L759.0,656.3 M759.0,665.2 L759.6,666.4 L760.6,670.5 L763.7,672.6 L766.8,674.6 L768.8,677.7 L769.9,680.8 L770.9,681.8 M771.9,610.0 L774.0,612.1 L777.0,611.5 L778.1,610.0 M430.5,683.2 L429.9,675.4 L430.5,667.5 L432.7,659.6 L436.1,656.3 L437.2,652.9 L439.4,648.4 L440.0,642.8 L442.8,640.5 L447.3,639.4 L450.0,639.4 M440.0,286.5 L446.2,284.5 L450.3,281.4 L454.4,278.3 L460.5,276.3 L465.6,274.2 L470.8,271.1 L473.8,267.0 L477.9,261.9 L481.0,258.8 L483.1,259.9 L486.1,264.0 L488.2,262.9 L490.2,259.9 L492.3,257.8 L495.4,255.8 L497.4,253.7 L499.5,249.6 L501.5,244.5 L500.5,240.4 L503.6,236.3 L506.7,233.2 L511.8,231.2 L515.9,230.1 L522.0,229.1 L527.2,229.6 L532.3,231.2 L537.4,232.2 L542.5,234.2 L545.0,235.3 M472.8,282.4 L479.0,276.3 L486.1,270.1 L493.3,266.0 L496.4,262.9 L501.5,259.9 L506.7,256.8 L507.7,254.7 M472.8,282.4 L473.8,284.5 L479.0,284.5 L484.1,286.5 L488.2,287.6 L491.3,290.6 L492.3,294.7 L493.3,300.0 M511.8,300.0 L511.8,293.7 L513.8,292.7 L516.9,290.6 L519.0,285.5 L521.0,284.5 L522.0,286.5 L525.1,289.6 L527.2,292.7 L529.2,296.8 L530.2,300.0 M540.0,233.2 L548.2,235.8 L553.3,237.3 L557.4,241.4 L564.6,241.9 L569.7,241.9 L571.8,243.5 L572.8,246.0 L576.9,247.0 L577.4,245.5 L575.4,242.4 L574.9,238.3 L575.4,234.2 L575.9,230.1 L577.4,227.1 L579.0,225.0 M620.0,222.9 L628.2,226.0 L634.3,226.5 L642.5,225.5 L648.7,223.5 M714.9,300.0 L724.1,298.8 L727.2,294.7 L730.2,289.6 L732.3,284.5 L737.4,279.3 L742.5,277.3 L745.0,276.3 L752.8,272.2 L756.9,270.1 M540.0,304.2 L544.1,306.3 L547.2,308.3 L550.3,311.4 L554.4,313.5 L557.4,312.9 L560.5,314.0 L563.6,313.5 L567.2,314.5 L564.6,316.5 L560.5,318.6 L556.4,319.6 L555.0,321.0 M590.2,370.0 L591.3,364.7 L590.2,359.6 L589.2,356.5 L591.3,352.4 L593.3,347.3 L597.4,345.2 L603.6,344.2 L607.7,342.2 L611.8,338.1 L616.9,335.0 L622.0,334.0 L621.0,329.9 L622.0,326.8 L626.1,327.8 L630.2,328.8 L634.3,327.8 L638.4,324.7 L642.5,321.7 L645.0,320.6 M640.0,321.7 L644.1,320.6 L646.2,323.7 L647.2,327.8 L648.2,332.9 L649.2,335.0 L654.4,334.5 L658.5,331.9 L662.6,330.9 L665.6,329.9 L667.2,327.8 L668.7,330.9 L671.8,329.9 L674.9,325.8 L676.9,321.7 L679.0,317.6 L679.0,313.5 L681.0,310.4 L682.0,307.3 L684.1,304.2 L687.2,302.2 L691.3,301.7 L697.4,302.7 L701.5,302.2 L705.6,301.2 L711.8,301.2 L717.9,299.6 L723.1,299.6 L726.1,298.1 L728.2,295.0 M560.0,481.7 L567.8,481.2 L575.6,480.7 L583.4,479.8 L591.2,479.8 L597.1,482.7 L601.0,481.7 L604.9,479.8 L608.8,476.8 L612.7,474.9 L614.7,476.8 L616.6,473.9 L620.5,472.9 L624.5,474.9 L626.4,477.8 L628.4,475.9 L634.2,474.9 L640.1,476.8 L644.0,479.8 L645.9,483.7 L647.9,485.6 L653.8,484.6 L657.7,486.6 L660.0,488.6 M589.3,585.9 L591.2,583.9 L593.2,579.1 L595.2,573.2 L601.0,572.7 L605.9,571.2 L608.8,569.3 L612.7,568.8 L616.6,569.3 L620.5,571.2 L626.4,573.2 L632.3,573.7 L640.1,574.2 L644.0,576.1 L647.9,578.1 L653.8,578.6 L660.0,577.6 M590.3,584.9 L592.2,586.9 L595.2,587.9 L596.1,590.8 L597.1,594.7 L595.2,597.6 L594.2,599.6 L597.1,600.5 L603.0,600.5 L605.9,602.5 L606.9,606.4 L604.9,608.4 L601.0,610.3 L597.1,613.2 L595.2,615.0 M420.0,337.8 L425.5,338.5 L430.9,337.8 L436.4,337.1 L440.5,336.4 L442.6,333.7 L441.9,328.2 L440.5,324.1 L441.9,321.4 L443.9,320.0 M420.0,339.8 L432.3,340.5 L433.7,343.2 L428.2,343.9 L425.5,346.0 L426.8,351.4 L424.1,353.5 L420.0,352.8 M440.5,359.6 L441.9,349.4 L447.3,347.3 L448.7,343.2 L455.5,341.2 L465.1,339.8 L472.0,341.9 L477.4,344.6 L480.8,347.3 L482.2,350.1 L480.8,353.5 L484.3,356.9 L487.7,355.5 L485.6,351.4 L487.0,347.3 L491.1,344.6 L496.6,342.6 L499.3,340.5 L502.0,337.8 L506.1,336.4 L510.2,337.8 L515.7,339.1 L518.4,340.5 L519.8,342.6 L523.9,340.5 L528.0,337.8 L533.5,335.0 L540.3,333.7 L543.1,329.6 L541.7,325.5 L547.2,324.1 L554.0,321.4 L556.7,320.0 M496.6,343.2 L497.9,346.0 L497.9,350.1 L499.3,352.8 L503.4,354.2 L504.8,350.1 L503.4,347.3 L506.1,344.6 L504.8,341.9 M476.1,329.6 L478.8,326.8 L482.9,324.1 L487.0,321.4 L488.4,320.0 M476.1,329.6 L478.8,332.3 L481.5,335.0 L483.6,337.8 L485.6,339.1 L491.1,337.8 L497.9,336.4 L504.8,335.7 L510.2,336.4 M420.0,365.1 L428.2,366.5 L436.4,367.9 L444.6,367.9 L451.4,367.2 L458.3,367.2 L465.1,367.2 L472.0,366.5 L477.4,365.1 L482.9,366.5 L487.0,369.2 L488.4,372.0 L491.1,373.3 L496.6,372.0 L502.0,369.2 L507.5,367.2 L513.0,366.5 L515.7,369.2 L518.4,372.0 L521.2,376.1 L523.9,380.0 M540.3,380.0 L545.8,377.4 L551.3,376.1 L556.7,376.1 L560.0,375.4 M660.0,683.5 L662.0,678.6 L664.9,676.6 L666.8,672.7 L667.8,666.9 L669.8,661.0 L670.7,657.1 L668.8,652.2 L667.8,648.3 L672.7,645.4 L679.5,642.5 L684.4,637.6 L687.3,634.6 L692.2,633.7 L697.1,632.7 L699.1,631.2 L700.0,631.7 L702.0,635.6 L704.9,638.6 L708.8,642.5 L712.7,644.4 L716.6,647.3 L719.6,646.4 L724.5,644.4 L728.4,642.5 L732.3,642.5 L735.2,646.4 L738.1,651.2 L740.1,654.2 L745.0,653.2 L749.8,651.2 L752.8,649.3 L751.8,654.2 L751.8,659.1 L755.7,659.1 L758.6,657.1 L760.0,656.1 M660.0,662.0 L665.9,663.0 L667.8,664.9 M660.0,672.7 L665.9,673.2 L667.8,672.7 M524.0,379.9 L530.0,381.1 L534.9,378.9 L540.0,377.6 L551.7,375.6 L563.4,374.6 L573.2,372.7 L579.1,371.7 L584.9,370.7 L590.8,367.8 L591.8,363.9 L590.8,360.0 M579.1,371.7 L581.0,379.5 L584.9,387.3 L586.9,397.1 L588.8,404.9 L592.7,410.8 L596.6,408.8 L598.6,404.9 L604.5,403.0 L612.3,406.9 L620.1,410.8 L622.0,416.6 L622.0,424.5 L622.0,429.9 M192.8,531.0 L194.0,535.0 L200.8,531.1 L201.0,531.2 M201.0,530.2 L203.2,532.1 L206.4,531.5 L210.7,528.3 L216.1,526.2 L221.5,525.1 L223.1,521.9 L223.6,517.6 L226.9,515.4 L227.9,514.3 L225.8,511.1 L224.7,508.4 L227.9,507.9 L232.2,509.0 L236.5,507.4 L241.9,505.2 L248.3,504.1 L253.7,503.1 L256.9,504.7 L258.0,501.4 L261.2,499.3 L265.5,498.2 L269.8,496.1 L270.0,496.0"/></g>
<g id="labels"><g font-size="12" text-anchor="middle">
<text x="254.2" y="232.1">1008</text>
<text x="569.3" y="234.4">1012</text>
<text x="854.5" y="195.6">1012</text>
<text x="499.2" y="283.9">1016</text>
<text x="579.6" y="283.9">1016</text>
<text x="621.7" y="287.6">1016</text>
<text x="458.0" y="301.7">1012</text>
<text x="642.5" y="247.2">1012</text>
<text x="397.7" y="356.0">1012</text>
<text x="438.7" y="369.7">1016</text>
<text x="629.0" y="367.2">1016</text>
<text x="424.1" y="410.7">1012</text>
<text x="557.7" y="412.9">1020</text>
<text x="274.2" y="466.0">1008</text>
<text x="483.9" y="469.2">1016</text>
<text x="502.5" y="491.7">1020</text>
<text x="750.0" y="496.4">1020</text>
<text x="824.1" y="496.4">1016</text>
<text x="299.4" y="527.7">1012</text>
<text x="387.2" y="536.5">1016</text>
<text x="644.5" y="520.6">1024</text>
<text x="527.5" y="538.8">1020</text>
<text x="544.6" y="561.3">1016</text>
<text x="892.4" y="560.0">1020</text>
<text x="776.5" y="574.8">1024</text>
<text x="712.8" y="592.2">1024</text>
<text x="217.4" y="605.8">1016</text>
<text x="333.6" y="610.8">1016</text>
<text x="218.4" y="628.3">1012</text>
<text x="449.8" y="624.0">1016</text>
<text x="521.0" y="624.2">1012</text>
<text x="791.4" y="629.8">1024</text>
</g>
<g class="ser" font-size="14.4">
<circle cx="508.1" cy="226.4" r="3.9" fill="#000"/>
<text class="ser" x="514.2" y="230.8" font-size="14.4" textLength="36.2" lengthAdjust="spacingAndGlyphs" style="font-family:'Liberation Serif',serif">Taraz</text>
<circle cx="458.1" cy="251.3" r="3.9" fill="#000"/>
<text class="ser" x="464.2" y="255.9" font-size="14.4" textLength="59" lengthAdjust="spacingAndGlyphs" style="font-family:'Liberation Serif',serif">Shimkent</text>
<circle cx="602.4" cy="242.9" r="3.9" fill="#a52a2a"/>
<text class="ser" x="609.7" y="247.4" font-size="14.4" textLength="48.6" lengthAdjust="spacingAndGlyphs" style="font-family:'Liberation Serif',serif">Bishkek</text>
<circle cx="440.2" cy="297.1" r="3.9" fill="#a52a2a"/>
<text class="ser" x="446.1" y="301.5" font-size="14.4" textLength="58" lengthAdjust="spacingAndGlyphs" style="font-family:'Liberation Serif',serif">Tashkent</text>
<circle cx="352.3" cy="369.4" r="3.9" fill="#a52a2a"/>
<text class="ser" x="358.7" y="374.3" font-size="14.4" textLength="68.6" lengthAdjust="spacingAndGlyphs" style="font-family:'Liberation Serif',serif">Samarkand</text>
<circle cx="411.4" cy="416.3" r="3.9" fill="#a52a2a"/>
<text class="ser" x="418.7" y="420.6" font-size="14.4" textLength="59.7" lengthAdjust="spacingAndGlyphs" style="font-family:'Liberation Serif',serif">Dushanbe</text>
</g>
<polygon points="681.40,203.80 683.16,208.37 688.06,208.64 684.25,211.73 685.51,216.46 681.40,213.80 677.29,216.46 678.55,211.73 674.74,208.64 679.64,208.37" fill="none" stroke="#a52a2a" stroke-width="2.2" stroke-linejoin="round"/>
<text x="689.8" y="214.5" font-size="15.5" font-weight="bold" textLength="49" lengthAdjust="spacingAndGlyphs" style="font-family:'Liberation Serif',serif">Almaty</text></g>
</g>
<rect x="153" y="142.5" width="785.4" height="540.9" fill="none" stroke="#000" stroke-width="1.6"/>
<g stroke="#000" stroke-width="1.6">
<path d="M137,152.7H153M137,238H153M137,323.3H153M137,408.6H153M137,494H153M137,579H153M137,664.5H153"/>
<path d="M274.9,683.4V698.6M455.4,683.4V698.6M635.9,683.4V698.6M816.2,683.4V698.6"/>
</g>
<g font-size="18.4" text-anchor="end">
<text x="125.5" y="159.3">44°N</text>
<text x="125.5" y="244.6">42°N</text>
<text x="125.5" y="329.9">40°N</text>
<text x="125.5" y="415.2">38°N</text>
<text x="125.5" y="500.6">36°N</text>
<text x="125.5" y="585.6">34°N</text>
<text x="125.5" y="671.1">32°N</text>
</g>
<g font-size="18.2" text-anchor="middle">
<text x="274.9" y="725">65°E</text>
<text x="455.4" y="725">70°E</text>
<text x="635.9" y="725">75°E</text>
<text x="816.2" y="725">80°E</text>
</g>
<text x="545.6" y="784.7" font-size="19.3" text-anchor="middle" xml:space="preserve">Precipitation Tendency  (mm)</text>
<g stroke="#555" stroke-width="1">
<rect x="286.3" y="794.7" width="43.2" height="27.6" fill="#ffffff"/>
<rect x="329.5" y="794.7" width="43.2" height="27.6" fill="#caff70"/>
<rect x="372.7" y="794.7" width="43.2" height="27.6" fill="#66cd00"/>
<rect x="415.9" y="794.7" width="43.2" height="27.6" fill="#00ff00"/>
<rect x="459.1" y="794.7" width="43.2" height="27.6" fill="#228b22"/>
<rect x="502.3" y="794.7" width="43.2" height="27.6" fill="#ffff00"/>
<rect x="545.5" y="794.7" width="43.2" height="27.6" fill="#ffa500"/>
<rect x="588.7" y="794.7" width="43.2" height="27.6" fill="#ff0000"/>
<rect x="631.9" y="794.7" width="43.2" height="27.6" fill="#8b0000"/>
<rect x="675.1" y="794.7" width="43.2" height="27.6" fill="#ee82ee"/>
<rect x="718.3" y="794.7" width="43.2" height="27.6" fill="#a020f0"/>
<rect x="761.5" y="794.7" width="43.2" height="27.6" fill="#551a8b"/>
</g>
<g font-size="19.3" text-anchor="middle">
<text x="329.5" y="857.8">.1</text>
<text x="372.7" y="857.8">.3</text>
<text x="415.9" y="857.8">1</text>
<text x="459.1" y="857.8">6</text>
<text x="502.3" y="857.8">15</text>
<text x="545.5" y="857.8">20</text>
<text x="588.7" y="857.8">25</text>
<text x="631.9" y="857.8">30</text>
<text x="675.1" y="857.8">50</text>
<text x="718.3" y="857.8">60</text>
<text x="761.5" y="857.8">70</text>
</g>
<text x="154.9" y="989.9" font-size="12.65">OUTPUT FROM WRF V3.8.1 MODEL</text>
<text x="154.9" y="1004" font-size="12.6">WE = 519 ; SN = 358 ; Levels = 30 ; Dis = 4km ; Phys Opt = 3 ; PBL Opt = 1 ; Cu Opt = 1</text>
</svg>
</body></html>
